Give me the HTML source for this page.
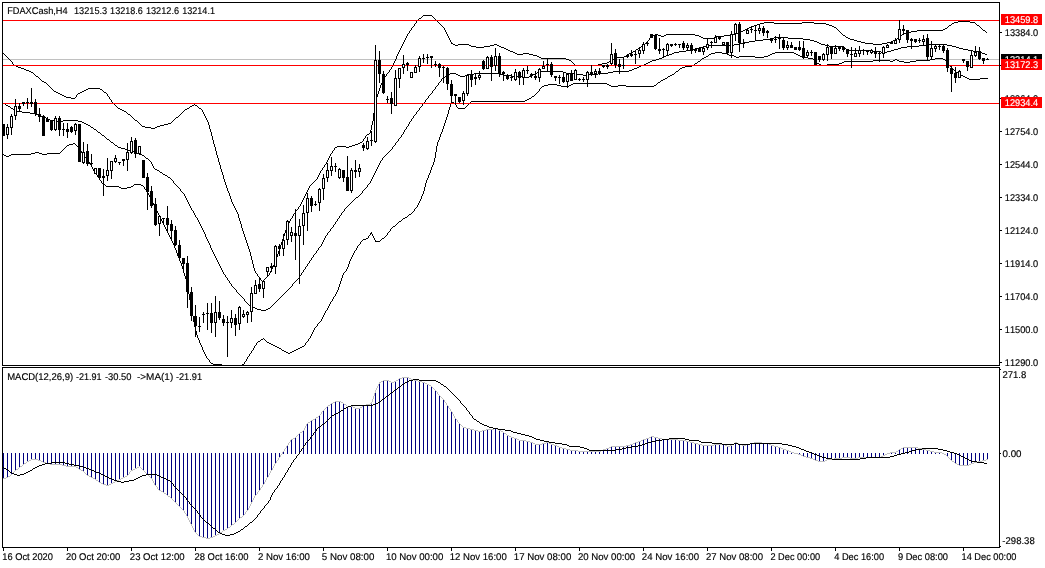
<!DOCTYPE html>
<html><head><meta charset="utf-8"><title>FDAXCash,H4</title>
<style>
html,body{margin:0;padding:0;background:#fff;}
body{width:1045px;height:568px;overflow:hidden;position:relative;font-family:"Liberation Sans",sans-serif;}
svg{position:absolute;left:0;top:0;display:block}
text{font-family:"Liberation Sans",sans-serif;font-size:9.78px;font-kerning:none;fill:#000;white-space:pre;text-rendering:geometricPrecision;stroke:#000;stroke-width:0.15px;}
.w{fill:#fff}
</style></head><body>
<svg width="1045" height="568" viewBox="0 0 1045 568">
<rect x="0" y="0" width="1045" height="568" fill="#fff"/>

<g shape-rendering="crispEdges" fill="#000">
<rect x="2" y="2" width="998" height="1"/>
<rect x="2" y="2" width="1" height="364"/>
<rect x="2" y="367" width="1" height="181"/>
<rect x="999" y="2" width="1" height="364"/>
<rect x="999" y="367" width="1" height="181"/>
<rect x="2" y="365" width="998" height="1"/>
<rect x="2" y="367" width="998" height="1"/>
<rect x="2" y="547" width="998" height="1"/>
<rect x="1000" y="32" width="2" height="1"/>
<rect x="1000" y="65" width="2" height="1"/>
<rect x="1000" y="98" width="2" height="1"/>
<rect x="1000" y="131" width="2" height="1"/>
<rect x="1000" y="164" width="2" height="1"/>
<rect x="1000" y="197" width="2" height="1"/>
<rect x="1000" y="230" width="2" height="1"/>
<rect x="1000" y="263" width="2" height="1"/>
<rect x="1000" y="296" width="2" height="1"/>
<rect x="1000" y="329" width="2" height="1"/>
<rect x="1000" y="362" width="2" height="1"/>
<rect x="1000" y="369" width="1" height="1"/>
<rect x="1000" y="453" width="1" height="1"/>
<rect x="1000" y="546" width="1" height="1"/>
<rect x="3" y="548" width="1" height="3"/>
<rect x="67" y="548" width="1" height="3"/>
<rect x="131" y="548" width="1" height="3"/>
<rect x="195" y="548" width="1" height="3"/>
<rect x="259" y="548" width="1" height="3"/>
<rect x="323" y="548" width="1" height="3"/>
<rect x="387" y="548" width="1" height="3"/>
<rect x="451" y="548" width="1" height="3"/>
<rect x="515" y="548" width="1" height="3"/>
<rect x="579" y="548" width="1" height="3"/>
<rect x="643" y="548" width="1" height="3"/>
<rect x="707" y="548" width="1" height="3"/>
<rect x="771" y="548" width="1" height="3"/>
<rect x="835" y="548" width="1" height="3"/>
<rect x="899" y="548" width="1" height="3"/>
<rect x="963" y="548" width="1" height="3"/>
</g>
<g shape-rendering="crispEdges">
<rect x="3" y="59" width="996" height="1" fill="#c0c0c0"/>
<path d="M208.5 122v3M209.5 125v4M210.5 129v3M211.5 132v4M212.5 136v4M213.5 140v4M214.5 144v3M215.5 147v4M216.5 151v4M217.5 155v3M218.5 158v4M219.5 162v3M220.5 165v4M221.5 169v3M222.5 172v3M223.5 175v4M224.5 179v3M225.5 182v3M226.5 185v3M227.5 188v3M229.5 193v3M230.5 196v3M231.5 199v3M238.5 214v4M239.5 218v3M240.5 221v3M241.5 224v4M242.5 228v3M243.5 231v3M244.5 234v3M245.5 237v3M246.5 240v3M247.5 243v3M248.5 246v3M249.5 249v3M250.5 252v4M251.5 256v4M252.5 260v4M253.5 264v4M254.5 268v3M274.5 262v3M276.5 257v3M277.5 254v3M278.5 251v3M279.5 248v3M280.5 245v3M281.5 242v3M282.5 239v3M283.5 236v3M284.5 233v3M285.5 230v3M287.5 225v3M370.5 130v3M371.5 125v5M372.5 121v4M373.5 113v8M374.5 105v8M375.5 101v4M376.5 97v4M377.5 94v3M378.5 91v3M379.5 88v3M380.5 85v3M396.5 56v3M423 15.5h9M422 16.5h1M432 16.5h1M421 17.5h1M433 17.5h1M419 18.5h2M434 18.5h1M418 19.5h1M435 19.5h1M417 20.5h1M436 20.5h1M416 21.5h1M437 21.5h1M958 21.5h12M416 22.5h1M438 22.5h1M764 22.5h10M802 22.5h12M954 22.5h4M970 22.5h5M415 23.5h1M439 23.5h1M760 23.5h4M774 23.5h28M814 23.5h12M952 23.5h2M975 23.5h1M414 24.5h1M440 24.5h1M757 24.5h3M826 24.5h3M951 24.5h1M976 24.5h1M414 25.5h1M441 25.5h1M754 25.5h3M829 25.5h3M949 25.5h2M977 25.5h2M413 26.5h1M442 26.5h1M752 26.5h2M832 26.5h2M948 26.5h1M979 26.5h1M412 27.5h1M443 27.5h1M749 27.5h3M834 27.5h2M947 27.5h1M980 27.5h1M411 28.5h1M444 28.5h1M747 28.5h2M836 28.5h1M945 28.5h2M981 28.5h1M411 29.5h1M444 29.5h1M745 29.5h2M837 29.5h1M943 29.5h2M982 29.5h1M410 30.5h1M445 30.5h1M743 30.5h2M838 30.5h1M917 30.5h26M983 30.5h2M409 31.5h1M445 31.5h1M741 31.5h2M839 31.5h1M911 31.5h6M985 31.5h1M409 32.5h1M446 32.5h1M738 32.5h3M840 32.5h1M906 32.5h5M986 32.5h1M408 33.5h1M446 33.5h1M735 33.5h3M841 33.5h1M904 33.5h2M407 34.5h1M447 34.5h1M655 34.5h3M666 34.5h29M732 34.5h3M842 34.5h1M902 34.5h2M407 35.5h1M447 35.5h1M652 35.5h3M658 35.5h3M664 35.5h2M695 35.5h4M724 35.5h8M843 35.5h2M901 35.5h1M406 36.5h1M448 36.5h1M651 36.5h1M661 36.5h3M699 36.5h2M716 36.5h8M845 36.5h1M899 36.5h2M406 37.5h1M448 37.5h1M650 37.5h1M701 37.5h2M714 37.5h2M846 37.5h2M898 37.5h1M405 38.5h1M449 38.5h1M649 38.5h1M703 38.5h11M848 38.5h2M897 38.5h1M405 39.5h1M449 39.5h1M649 39.5h1M850 39.5h4M895 39.5h2M404 40.5h1M450 40.5h1M648 40.5h1M854 40.5h3M893 40.5h2M404 41.5h1M450 41.5h1M647 41.5h1M857 41.5h4M891 41.5h2M403 42.5h1M451 42.5h1M646 42.5h1M861 42.5h4M887 42.5h4M403 43.5h1M451 43.5h2M645 43.5h1M865 43.5h8M882 43.5h5M402 44.5h1M453 44.5h2M458 44.5h11M494 44.5h3M643 44.5h2M873 44.5h9M402 45.5h1M455 45.5h3M469 45.5h2M490 45.5h4M497 45.5h2M642 45.5h1M401 46.5h1M471 46.5h5M484 46.5h6M499 46.5h2M641 46.5h1M401 47.5h1M476 47.5h8M501 47.5h3M639 47.5h2M400 48.5h1M504 48.5h2M638 48.5h1M400 49.5h1M506 49.5h2M636 49.5h2M399 50.5h1M508 50.5h2M635 50.5h1M399 51.5h1M510 51.5h3M633 51.5h2M398 52.5h1M513 52.5h2M631 52.5h2M3 53.5h1M398 53.5h1M515 53.5h2M523 53.5h6M629 53.5h2M4 54.5h1M397 54.5h1M517 54.5h6M529 54.5h4M627 54.5h2M5 55.5h1M397 55.5h1M533 55.5h4M626 55.5h1M6 56.5h1M537 56.5h2M624 56.5h2M7 57.5h1M539 57.5h2M617 57.5h7M8 58.5h1M541 58.5h25M615 58.5h2M9 59.5h1M395 59.5h1M566 59.5h3M613 59.5h2M10 60.5h1M395 60.5h1M569 60.5h2M611 60.5h2M11 61.5h1M394 61.5h1M571 61.5h1M609 61.5h2M12 62.5h1M394 62.5h1M572 62.5h1M607 62.5h2M12 63.5h1M393 63.5h1M573 63.5h1M602 63.5h5M13 64.5h1M393 64.5h1M574 64.5h1M598 64.5h4M14 65.5h2M392 65.5h1M575 65.5h23M16 66.5h2M392 66.5h1M18 67.5h3M391 67.5h1M21 68.5h3M391 68.5h1M24 69.5h2M390 69.5h1M26 70.5h3M389 70.5h1M29 71.5h2M389 71.5h1M31 72.5h2M388 72.5h1M33 73.5h1M387 73.5h1M34 74.5h1M386 74.5h1M35 75.5h1M386 75.5h1M36 76.5h2M385 76.5h1M38 77.5h1M384 77.5h1M39 78.5h1M384 78.5h1M40 79.5h1M383 79.5h1M41 80.5h1M383 80.5h1M42 81.5h2M382 81.5h1M44 82.5h2M382 82.5h1M46 83.5h1M381 83.5h1M47 84.5h1M381 84.5h1M48 85.5h1M49 86.5h1M50 87.5h1M51 88.5h1M88 88.5h12M52 89.5h1M86 89.5h2M100 89.5h2M53 90.5h1M84 90.5h2M102 90.5h1M54 91.5h2M82 91.5h2M103 91.5h1M56 92.5h2M80 92.5h2M104 92.5h2M58 93.5h2M78 93.5h2M106 93.5h1M60 94.5h2M77 94.5h1M107 94.5h1M62 95.5h2M76 95.5h1M107 95.5h1M64 96.5h2M76 96.5h1M108 96.5h1M66 97.5h5M75 97.5h1M109 97.5h1M71 98.5h4M109 98.5h1M110 99.5h1M111 100.5h1M111 101.5h1M112 102.5h1M113 103.5h1M114 104.5h1M194 104.5h1M115 105.5h1M192 105.5h2M195 105.5h2M116 106.5h1M190 106.5h2M197 106.5h1M117 107.5h1M189 107.5h1M198 107.5h1M118 108.5h2M187 108.5h2M199 108.5h2M120 109.5h2M185 109.5h2M201 109.5h1M122 110.5h2M184 110.5h1M202 110.5h1M124 111.5h2M183 111.5h1M202 111.5h1M126 112.5h1M182 112.5h1M203 112.5h1M127 113.5h1M181 113.5h1M203 113.5h1M128 114.5h2M180 114.5h1M204 114.5h1M130 115.5h1M179 115.5h1M204 115.5h1M131 116.5h1M178 116.5h1M205 116.5h1M132 117.5h1M176 117.5h2M205 117.5h1M133 118.5h1M175 118.5h1M206 118.5h1M134 119.5h1M174 119.5h1M206 119.5h1M135 120.5h2M173 120.5h1M207 120.5h1M137 121.5h1M172 121.5h1M207 121.5h1M138 122.5h1M171 122.5h1M139 123.5h1M168 123.5h3M140 124.5h1M164 124.5h4M141 125.5h1M160 125.5h4M142 126.5h3M157 126.5h3M145 127.5h6M155 127.5h2M151 128.5h4M369 133.5h1M367 134.5h2M366 135.5h1M365 136.5h1M365 137.5h1M364 138.5h1M363 139.5h1M363 140.5h1M362 141.5h1M360 142.5h2M358 143.5h2M355 144.5h3M352 145.5h3M337 146.5h9M349 146.5h3M335 147.5h2M346 147.5h3M334 148.5h1M334 149.5h1M333 150.5h1M332 151.5h1M332 152.5h1M331 153.5h1M330 154.5h1M330 155.5h1M329 156.5h1M329 157.5h1M328 158.5h1M328 159.5h1M327 160.5h1M327 161.5h1M326 162.5h1M326 163.5h1M325 164.5h1M324 165.5h1M324 166.5h1M323 167.5h1M322 168.5h1M322 169.5h1M321 170.5h1M320 171.5h1M320 172.5h1M319 173.5h1M319 174.5h1M318 175.5h1M318 176.5h1M317 177.5h1M317 178.5h1M316 179.5h1M315 180.5h1M314 181.5h1M313 182.5h1M312 183.5h1M311 184.5h1M310 185.5h1M309 186.5h1M309 187.5h1M308 188.5h1M308 189.5h1M307 190.5h1M228 191.5h1M307 191.5h1M228 192.5h1M306 192.5h1M306 193.5h1M305 194.5h1M305 195.5h1M304 196.5h1M304 197.5h1M303 198.5h1M303 199.5h1M302 200.5h1M302 201.5h1M232 202.5h1M301 202.5h1M232 203.5h1M301 203.5h1M233 204.5h1M300 204.5h1M233 205.5h1M300 205.5h1M234 206.5h1M299 206.5h1M234 207.5h1M298 207.5h1M235 208.5h1M298 208.5h1M235 209.5h1M297 209.5h1M236 210.5h1M296 210.5h1M236 211.5h1M295 211.5h1M237 212.5h1M295 212.5h1M237 213.5h1M294 213.5h1M293 214.5h1M293 215.5h1M292 216.5h1M292 217.5h1M291 218.5h1M290 219.5h1M290 220.5h1M289 221.5h1M289 222.5h1M288 223.5h1M288 224.5h1M286 228.5h1M286 229.5h1M275 260.5h1M275 261.5h1M273 265.5h1M273 266.5h1M272 267.5h1M272 268.5h1M271 269.5h1M271 270.5h1M255 271.5h1M270 271.5h1M255 272.5h1M270 272.5h1M256 273.5h1M269 273.5h1M257 274.5h1M269 274.5h1M257 275.5h1M268 275.5h1M258 276.5h1M267 276.5h1M259 277.5h1M266 277.5h1M260 278.5h1M265 278.5h1M260 279.5h1M264 279.5h1M261 280.5h1M263 280.5h1M262 281.5h1" fill="none" stroke="#000" stroke-width="1"/>
<path d="M205.5 234v3M210.5 245v3M774 37.5h14M770 38.5h4M788 38.5h15M763 39.5h7M803 39.5h7M755 40.5h8M810 40.5h4M749 41.5h6M814 41.5h3M744 42.5h5M817 42.5h2M740 43.5h4M819 43.5h2M734 44.5h6M821 44.5h4M929 44.5h18M708 45.5h26M825 45.5h4M919 45.5h10M947 45.5h5M703 46.5h5M829 46.5h14M907 46.5h12M952 46.5h4M699 47.5h4M843 47.5h2M901 47.5h6M956 47.5h3M695 48.5h4M845 48.5h1M898 48.5h3M959 48.5h4M691 49.5h4M846 49.5h2M894 49.5h4M963 49.5h5M686 50.5h5M848 50.5h24M891 50.5h3M968 50.5h5M679 51.5h7M872 51.5h9M887 51.5h4M973 51.5h5M674 52.5h5M881 52.5h6M978 52.5h4M672 53.5h2M982 53.5h3M669 54.5h3M985 54.5h2M666 55.5h3M664 56.5h2M662 57.5h2M659 58.5h3M656 59.5h3M652 60.5h4M650 61.5h2M648 62.5h2M646 63.5h2M644 64.5h2M641 65.5h3M639 66.5h2M637 67.5h2M634 68.5h3M632 69.5h2M629 70.5h3M541 71.5h22M613 71.5h16M537 72.5h4M563 72.5h3M608 72.5h5M450 73.5h6M474 73.5h26M535 73.5h2M566 73.5h8M598 73.5h10M448 74.5h2M456 74.5h2M467 74.5h7M500 74.5h4M533 74.5h2M574 74.5h9M588 74.5h10M447 75.5h1M458 75.5h2M465 75.5h2M504 75.5h7M531 75.5h2M583 75.5h5M445 76.5h2M460 76.5h5M511 76.5h11M529 76.5h2M443 77.5h2M522 77.5h7M442 78.5h1M441 79.5h1M441 80.5h1M440 81.5h1M439 82.5h1M438 83.5h1M438 84.5h1M437 85.5h1M436 86.5h1M435 87.5h1M435 88.5h1M434 89.5h1M433 90.5h1M432 91.5h1M432 92.5h1M431 93.5h1M430 94.5h1M429 95.5h1M428 96.5h1M428 97.5h1M427 98.5h1M426 99.5h1M425 100.5h1M425 101.5h1M424 102.5h1M3 103.5h2M423 103.5h1M5 104.5h1M422 104.5h1M6 105.5h2M422 105.5h1M8 106.5h2M421 106.5h1M10 107.5h1M420 107.5h1M11 108.5h2M419 108.5h1M13 109.5h2M419 109.5h1M15 110.5h2M418 110.5h1M17 111.5h5M417 111.5h1M22 112.5h8M416 112.5h1M30 113.5h5M416 113.5h1M35 114.5h3M415 114.5h1M38 115.5h3M414 115.5h1M41 116.5h3M413 116.5h1M44 117.5h2M413 117.5h1M46 118.5h2M412 118.5h1M48 119.5h2M411 119.5h1M50 120.5h6M63 120.5h15M411 120.5h1M56 121.5h7M78 121.5h4M410 121.5h1M82 122.5h2M409 122.5h1M84 123.5h2M409 123.5h1M86 124.5h2M408 124.5h1M88 125.5h2M408 125.5h1M90 126.5h1M407 126.5h1M91 127.5h2M406 127.5h1M93 128.5h1M406 128.5h1M94 129.5h2M405 129.5h1M96 130.5h1M404 130.5h1M97 131.5h1M404 131.5h1M98 132.5h2M403 132.5h1M100 133.5h1M403 133.5h1M101 134.5h1M402 134.5h1M102 135.5h2M401 135.5h1M104 136.5h1M401 136.5h1M105 137.5h1M400 137.5h1M106 138.5h1M399 138.5h1M107 139.5h2M398 139.5h1M109 140.5h1M398 140.5h1M110 141.5h1M397 141.5h1M111 142.5h2M396 142.5h1M113 143.5h1M395 143.5h1M114 144.5h1M395 144.5h1M115 145.5h2M394 145.5h1M117 146.5h1M393 146.5h1M118 147.5h3M392 147.5h1M121 148.5h4M392 148.5h1M125 149.5h3M391 149.5h1M128 150.5h3M390 150.5h1M131 151.5h3M389 151.5h1M134 152.5h2M388 152.5h1M136 153.5h3M387 153.5h1M139 154.5h3M386 154.5h1M142 155.5h2M385 155.5h1M144 156.5h1M384 156.5h1M145 157.5h1M383 157.5h1M146 158.5h2M382 158.5h1M148 159.5h1M382 159.5h1M149 160.5h1M381 160.5h1M150 161.5h1M380 161.5h1M151 162.5h1M380 162.5h1M151 163.5h1M379 163.5h1M152 164.5h1M379 164.5h1M152 165.5h1M378 165.5h1M153 166.5h1M378 166.5h1M153 167.5h1M377 167.5h1M154 168.5h1M377 168.5h1M155 169.5h2M376 169.5h1M157 170.5h2M376 170.5h1M159 171.5h1M375 171.5h1M160 172.5h2M375 172.5h1M162 173.5h1M374 173.5h1M163 174.5h2M374 174.5h1M165 175.5h2M373 175.5h1M167 176.5h1M373 176.5h1M168 177.5h2M372 177.5h1M170 178.5h1M372 178.5h1M171 179.5h1M371 179.5h1M172 180.5h1M371 180.5h1M173 181.5h1M370 181.5h1M173 182.5h1M370 182.5h1M174 183.5h1M369 183.5h1M175 184.5h1M368 184.5h1M176 185.5h1M367 185.5h1M177 186.5h1M367 186.5h1M178 187.5h1M366 187.5h1M179 188.5h1M365 188.5h1M180 189.5h1M364 189.5h1M180 190.5h1M363 190.5h1M181 191.5h1M362 191.5h1M182 192.5h1M362 192.5h1M183 193.5h1M361 193.5h1M184 194.5h1M360 194.5h1M184 195.5h1M359 195.5h1M185 196.5h1M358 196.5h1M185 197.5h1M356 197.5h2M186 198.5h1M355 198.5h1M186 199.5h1M354 199.5h1M187 200.5h1M353 200.5h1M187 201.5h1M352 201.5h1M188 202.5h1M351 202.5h1M188 203.5h1M350 203.5h1M189 204.5h1M349 204.5h1M189 205.5h1M348 205.5h1M190 206.5h1M347 206.5h1M190 207.5h1M346 207.5h1M191 208.5h1M345 208.5h1M191 209.5h1M344 209.5h1M192 210.5h1M344 210.5h1M193 211.5h1M343 211.5h1M193 212.5h1M342 212.5h1M194 213.5h1M341 213.5h1M194 214.5h1M341 214.5h1M195 215.5h1M340 215.5h1M195 216.5h1M339 216.5h1M196 217.5h1M339 217.5h1M197 218.5h1M338 218.5h1M197 219.5h1M337 219.5h1M198 220.5h1M337 220.5h1M198 221.5h1M336 221.5h1M199 222.5h1M335 222.5h1M199 223.5h1M335 223.5h1M200 224.5h1M334 224.5h1M200 225.5h1M333 225.5h1M201 226.5h1M333 226.5h1M201 227.5h1M332 227.5h1M202 228.5h1M331 228.5h1M202 229.5h1M330 229.5h1M203 230.5h1M330 230.5h1M203 231.5h1M329 231.5h1M204 232.5h1M328 232.5h1M204 233.5h1M327 233.5h1M327 234.5h1M326 235.5h1M325 236.5h1M206 237.5h1M325 237.5h1M206 238.5h1M324 238.5h1M207 239.5h1M324 239.5h1M207 240.5h1M323 240.5h1M208 241.5h1M323 241.5h1M208 242.5h1M322 242.5h1M209 243.5h1M322 243.5h1M209 244.5h1M321 244.5h1M321 245.5h1M320 246.5h1M319 247.5h1M211 248.5h1M318 248.5h1M211 249.5h1M318 249.5h1M212 250.5h1M317 250.5h1M212 251.5h1M316 251.5h1M213 252.5h1M316 252.5h1M213 253.5h1M315 253.5h1M214 254.5h1M314 254.5h1M214 255.5h1M313 255.5h1M215 256.5h1M313 256.5h1M215 257.5h1M312 257.5h1M216 258.5h1M311 258.5h1M216 259.5h1M311 259.5h1M217 260.5h1M310 260.5h1M217 261.5h1M309 261.5h1M218 262.5h1M309 262.5h1M218 263.5h1M308 263.5h1M219 264.5h1M307 264.5h1M219 265.5h1M307 265.5h1M220 266.5h1M306 266.5h1M220 267.5h1M305 267.5h1M221 268.5h1M305 268.5h1M221 269.5h1M304 269.5h1M222 270.5h1M303 270.5h1M222 271.5h1M303 271.5h1M223 272.5h1M302 272.5h1M223 273.5h1M301 273.5h1M224 274.5h1M301 274.5h1M225 275.5h1M300 275.5h1M225 276.5h1M299 276.5h1M226 277.5h1M299 277.5h1M227 278.5h1M298 278.5h1M227 279.5h1M297 279.5h1M228 280.5h1M296 280.5h1M229 281.5h1M295 281.5h1M229 282.5h1M294 282.5h1M230 283.5h1M293 283.5h1M231 284.5h1M292 284.5h1M231 285.5h1M292 285.5h1M232 286.5h1M291 286.5h1M233 287.5h1M290 287.5h1M234 288.5h1M289 288.5h1M235 289.5h1M288 289.5h1M236 290.5h1M287 290.5h1M236 291.5h1M286 291.5h1M237 292.5h1M285 292.5h1M238 293.5h1M284 293.5h1M239 294.5h1M283 294.5h1M240 295.5h1M282 295.5h1M241 296.5h1M281 296.5h1M242 297.5h1M280 297.5h1M243 298.5h1M279 298.5h1M244 299.5h1M278 299.5h1M244 300.5h1M277 300.5h1M245 301.5h1M276 301.5h1M246 302.5h1M275 302.5h1M247 303.5h1M274 303.5h1M248 304.5h1M273 304.5h1M249 305.5h2M272 305.5h1M251 306.5h2M271 306.5h1M253 307.5h2M270 307.5h1M255 308.5h2M268 308.5h2M257 309.5h4M266 309.5h2M261 310.5h5" fill="none" stroke="#000" stroke-width="1"/>
<path d="M174.5 245v3M176.5 250v3M177.5 253v3M179.5 258v3M181.5 263v3M182.5 266v3M183.5 269v4M184.5 273v3M185.5 276v3M186.5 279v4M187.5 283v6M188.5 289v5M189.5 294v6M190.5 300v5M191.5 305v6M192.5 311v5M193.5 316v6M194.5 322v5M195.5 327v4M196.5 331v4M197.5 335v3M199.5 340v3M202.5 347v3M338.5 287v3M339.5 284v3M340.5 281v3M341.5 278v3M342.5 275v3M348.5 264v3M349.5 261v3M421.5 196v3M423.5 191v3M424.5 187v4M425.5 183v4M426.5 180v3M428.5 175v3M430.5 170v3M431.5 167v3M433.5 162v3M434.5 158v4M435.5 152v6M436.5 146v6M437.5 142v4M439.5 137v3M440.5 134v3M442.5 129v3M443.5 126v3M444.5 123v3M445.5 120v3M446.5 117v3M447.5 114v3M448.5 110v4M449.5 107v3M450.5 103v4M715 52.5h7M775 52.5h19M711 53.5h4M722 53.5h5M772 53.5h3M794 53.5h2M709 54.5h2M727 54.5h2M770 54.5h2M796 54.5h2M708 55.5h1M729 55.5h5M768 55.5h2M798 55.5h2M706 56.5h2M734 56.5h2M739 56.5h16M764 56.5h4M800 56.5h2M704 57.5h2M736 57.5h3M755 57.5h9M802 57.5h6M702 58.5h2M808 58.5h5M935 58.5h8M701 59.5h1M813 59.5h1M895 59.5h2M930 59.5h5M943 59.5h2M700 60.5h1M814 60.5h1M873 60.5h17M893 60.5h2M897 60.5h2M916 60.5h14M945 60.5h1M698 61.5h2M815 61.5h1M844 61.5h29M890 61.5h3M899 61.5h5M910 61.5h6M946 61.5h1M697 62.5h1M816 62.5h1M842 62.5h2M904 62.5h6M946 62.5h1M695 63.5h2M817 63.5h2M839 63.5h3M947 63.5h1M694 64.5h1M819 64.5h2M827 64.5h12M948 64.5h1M692 65.5h2M821 65.5h6M949 65.5h1M685 66.5h7M950 66.5h1M682 67.5h3M951 67.5h1M680 68.5h2M952 68.5h1M679 69.5h1M953 69.5h1M678 70.5h1M954 70.5h1M676 71.5h2M955 71.5h1M675 72.5h1M956 72.5h2M674 73.5h1M958 73.5h1M672 74.5h2M959 74.5h2M670 75.5h2M961 75.5h2M668 76.5h2M963 76.5h2M667 77.5h1M965 77.5h2M665 78.5h2M967 78.5h2M980 78.5h8M663 79.5h2M969 79.5h11M661 80.5h2M660 81.5h1M658 82.5h2M573 83.5h34M657 83.5h1M548 84.5h9M571 84.5h2M607 84.5h2M656 84.5h1M544 85.5h4M557 85.5h4M569 85.5h2M609 85.5h2M618 85.5h8M654 85.5h2M542 86.5h2M561 86.5h8M611 86.5h7M626 86.5h28M541 87.5h1M540 88.5h1M539 89.5h1M539 90.5h1M538 91.5h1M537 92.5h1M536 93.5h1M535 94.5h1M534 95.5h1M532 96.5h2M531 97.5h1M529 98.5h2M527 99.5h2M525 100.5h2M451 101.5h1M471 101.5h54M451 102.5h3M470 102.5h1M454 103.5h1M469 103.5h1M455 104.5h1M468 104.5h1M456 105.5h1M467 105.5h1M456 106.5h1M466 106.5h1M457 107.5h1M465 107.5h1M458 108.5h7M441 132.5h1M441 133.5h1M438 140.5h1M438 141.5h1M73 143.5h2M69 144.5h4M75 144.5h1M67 145.5h2M76 145.5h1M66 146.5h1M77 146.5h1M65 147.5h1M78 147.5h1M64 148.5h1M78 148.5h1M63 149.5h1M79 149.5h1M62 150.5h1M80 150.5h1M61 151.5h1M81 151.5h1M35 152.5h4M60 152.5h1M81 152.5h1M31 153.5h4M39 153.5h3M47 153.5h13M82 153.5h1M3 154.5h1M11 154.5h20M42 154.5h5M83 154.5h1M4 155.5h2M9 155.5h2M83 155.5h1M6 156.5h3M84 156.5h1M85 157.5h1M86 158.5h1M86 159.5h1M87 160.5h1M88 161.5h1M89 162.5h1M89 163.5h1M90 164.5h1M91 165.5h1M432 165.5h1M91 166.5h1M432 166.5h1M92 167.5h1M92 168.5h1M93 169.5h1M93 170.5h1M94 171.5h1M95 172.5h1M95 173.5h1M429 173.5h1M96 174.5h1M429 174.5h1M97 175.5h1M97 176.5h1M98 177.5h1M99 178.5h1M427 178.5h1M99 179.5h1M427 179.5h1M100 180.5h1M101 181.5h1M101 182.5h1M102 183.5h1M103 184.5h2M134 184.5h7M105 185.5h1M133 185.5h1M141 185.5h2M106 186.5h13M131 186.5h2M143 186.5h1M119 187.5h2M127 187.5h4M144 187.5h1M121 188.5h6M144 188.5h1M145 189.5h1M146 190.5h1M147 191.5h1M147 192.5h1M148 193.5h1M148 194.5h1M422 194.5h1M149 195.5h1M422 195.5h1M149 196.5h1M150 197.5h1M150 198.5h1M151 199.5h1M420 199.5h1M151 200.5h1M420 200.5h1M152 201.5h1M419 201.5h1M152 202.5h1M419 202.5h1M153 203.5h1M418 203.5h1M153 204.5h1M418 204.5h1M154 205.5h1M417 205.5h1M154 206.5h1M417 206.5h1M155 207.5h1M416 207.5h1M155 208.5h1M415 208.5h1M156 209.5h1M414 209.5h1M156 210.5h1M414 210.5h1M157 211.5h1M413 211.5h1M157 212.5h1M412 212.5h1M158 213.5h1M411 213.5h1M158 214.5h1M409 214.5h2M159 215.5h1M408 215.5h1M159 216.5h1M407 216.5h1M160 217.5h1M405 217.5h2M160 218.5h1M403 218.5h2M161 219.5h1M402 219.5h1M161 220.5h1M401 220.5h1M162 221.5h1M399 221.5h2M162 222.5h1M398 222.5h1M163 223.5h1M397 223.5h1M163 224.5h1M396 224.5h1M164 225.5h1M395 225.5h1M164 226.5h1M393 226.5h2M165 227.5h1M392 227.5h1M165 228.5h1M391 228.5h1M166 229.5h1M390 229.5h1M166 230.5h1M390 230.5h1M167 231.5h1M389 231.5h1M167 232.5h1M371 232.5h1M388 232.5h1M168 233.5h1M370 233.5h2M387 233.5h1M168 234.5h1M370 234.5h1M372 234.5h1M387 234.5h1M169 235.5h1M369 235.5h1M372 235.5h1M386 235.5h1M169 236.5h1M368 236.5h1M373 236.5h1M385 236.5h1M170 237.5h1M368 237.5h1M373 237.5h1M384 237.5h1M170 238.5h1M366 238.5h2M374 238.5h1M382 238.5h2M171 239.5h1M363 239.5h3M374 239.5h1M381 239.5h1M171 240.5h1M362 240.5h1M375 240.5h1M380 240.5h1M172 241.5h1M361 241.5h1M375 241.5h5M172 242.5h1M360 242.5h1M173 243.5h1M360 243.5h1M173 244.5h1M359 244.5h1M358 245.5h1M357 246.5h1M357 247.5h1M175 248.5h1M356 248.5h1M175 249.5h1M356 249.5h1M355 250.5h1M354 251.5h1M354 252.5h1M353 253.5h1M353 254.5h1M352 255.5h1M178 256.5h1M352 256.5h1M178 257.5h1M351 257.5h1M351 258.5h1M350 259.5h1M350 260.5h1M180 261.5h1M180 262.5h1M347 267.5h1M347 268.5h1M346 269.5h1M346 270.5h1M345 271.5h1M344 272.5h1M343 273.5h1M343 274.5h1M337 290.5h1M337 291.5h1M336 292.5h1M336 293.5h1M335 294.5h1M335 295.5h1M334 296.5h1M333 297.5h1M333 298.5h1M332 299.5h1M332 300.5h1M331 301.5h1M330 302.5h1M330 303.5h1M329 304.5h1M329 305.5h1M328 306.5h1M328 307.5h1M327 308.5h1M327 309.5h1M326 310.5h1M325 311.5h1M325 312.5h1M324 313.5h1M324 314.5h1M323 315.5h1M323 316.5h1M322 317.5h1M322 318.5h1M321 319.5h1M321 320.5h1M320 321.5h1M319 322.5h1M318 323.5h1M317 324.5h1M317 325.5h1M316 326.5h1M315 327.5h1M314 328.5h1M314 329.5h1M313 330.5h1M313 331.5h1M312 332.5h1M312 333.5h1M311 334.5h1M311 335.5h1M310 336.5h1M310 337.5h1M198 338.5h1M263 338.5h1M309 338.5h1M198 339.5h1M261 339.5h2M264 339.5h1M308 339.5h1M260 340.5h1M265 340.5h1M308 340.5h1M258 341.5h2M266 341.5h1M307 341.5h1M257 342.5h1M267 342.5h2M306 342.5h1M200 343.5h1M256 343.5h1M269 343.5h2M305 343.5h1M200 344.5h1M256 344.5h1M271 344.5h2M305 344.5h1M201 345.5h1M255 345.5h1M273 345.5h2M304 345.5h1M201 346.5h1M254 346.5h1M275 346.5h2M302 346.5h2M254 347.5h1M277 347.5h2M300 347.5h2M253 348.5h1M279 348.5h2M298 348.5h2M253 349.5h1M281 349.5h1M296 349.5h2M203 350.5h1M252 350.5h1M282 350.5h2M294 350.5h2M203 351.5h1M251 351.5h1M284 351.5h2M292 351.5h2M204 352.5h1M251 352.5h1M286 352.5h2M290 352.5h2M204 353.5h1M250 353.5h1M288 353.5h2M205 354.5h1M249 354.5h1M205 355.5h1M249 355.5h1M206 356.5h1M248 356.5h1M206 357.5h1M247 357.5h1M207 358.5h1M247 358.5h1M208 359.5h1M246 359.5h1M209 360.5h1M246 360.5h1M209 361.5h1M245 361.5h1M210 362.5h1M244 362.5h1M211 363.5h2M244 363.5h1M213 364.5h9M242 364.5h2" fill="none" stroke="#000" stroke-width="1"/>
<rect x="3" y="20" width="996" height="1" fill="#f00"/>
<rect x="3" y="65" width="996" height="1" fill="#f00"/>
<rect x="3" y="103" width="996" height="1" fill="#f00"/>
</g>
<g shape-rendering="crispEdges" fill="#000">
<rect x="3" y="124" width="1" height="12"/>
<rect x="2" y="124" width="3" height="12"/>
<rect x="7" y="124" width="1" height="15"/>
<rect x="6" y="127" width="3" height="8"/>
<rect x="7" y="128" width="1" height="6" class="w"/>
<rect x="11" y="114" width="1" height="21"/>
<rect x="10" y="116" width="3" height="12"/>
<rect x="11" y="117" width="1" height="10" class="w"/>
<rect x="15" y="99" width="1" height="21"/>
<rect x="14" y="106" width="3" height="10"/>
<rect x="15" y="107" width="1" height="8" class="w"/>
<rect x="19" y="103" width="1" height="8"/>
<rect x="18" y="106" width="3" height="3"/>
<rect x="23" y="102" width="1" height="4"/>
<rect x="22" y="102" width="3" height="2"/>
<rect x="27" y="98" width="1" height="11"/>
<rect x="26" y="102" width="3" height="1"/>
<rect x="31" y="88" width="1" height="19"/>
<rect x="30" y="102" width="3" height="2"/>
<rect x="35" y="99" width="1" height="17"/>
<rect x="34" y="102" width="3" height="12"/>
<rect x="39" y="108" width="1" height="14"/>
<rect x="38" y="114" width="3" height="3"/>
<rect x="43" y="115" width="1" height="21"/>
<rect x="42" y="116" width="3" height="20"/>
<rect x="47" y="117" width="1" height="5"/>
<rect x="46" y="119" width="3" height="3"/>
<rect x="51" y="120" width="1" height="11"/>
<rect x="50" y="121" width="3" height="9"/>
<rect x="55" y="116" width="1" height="15"/>
<rect x="54" y="118" width="3" height="12"/>
<rect x="55" y="119" width="1" height="10" class="w"/>
<rect x="59" y="116" width="1" height="20"/>
<rect x="58" y="118" width="3" height="12"/>
<rect x="63" y="123" width="1" height="13"/>
<rect x="62" y="129" width="3" height="1"/>
<rect x="67" y="123" width="1" height="15"/>
<rect x="66" y="129" width="3" height="3"/>
<rect x="71" y="126" width="1" height="7"/>
<rect x="70" y="127" width="3" height="5"/>
<rect x="75" y="123" width="1" height="12"/>
<rect x="74" y="124" width="3" height="7"/>
<rect x="75" y="125" width="1" height="5" class="w"/>
<rect x="79" y="124" width="1" height="38"/>
<rect x="78" y="124" width="3" height="38"/>
<rect x="83" y="142" width="1" height="22"/>
<rect x="82" y="152" width="3" height="11"/>
<rect x="83" y="153" width="1" height="9" class="w"/>
<rect x="87" y="144" width="1" height="22"/>
<rect x="86" y="151" width="3" height="13"/>
<rect x="91" y="154" width="1" height="12"/>
<rect x="90" y="163" width="3" height="1"/>
<rect x="95" y="168" width="1" height="6"/>
<rect x="94" y="168" width="3" height="6"/>
<rect x="95" y="169" width="1" height="4" class="w"/>
<rect x="99" y="168" width="1" height="10"/>
<rect x="98" y="168" width="3" height="10"/>
<rect x="103" y="169" width="1" height="27"/>
<rect x="102" y="176" width="3" height="2"/>
<rect x="107" y="158" width="1" height="23"/>
<rect x="106" y="170" width="3" height="6"/>
<rect x="107" y="171" width="1" height="4" class="w"/>
<rect x="111" y="161" width="1" height="18"/>
<rect x="110" y="161" width="3" height="10"/>
<rect x="111" y="162" width="1" height="8" class="w"/>
<rect x="115" y="155" width="1" height="8"/>
<rect x="114" y="158" width="3" height="4"/>
<rect x="115" y="159" width="1" height="2" class="w"/>
<rect x="119" y="162" width="1" height="3"/>
<rect x="118" y="162" width="3" height="1"/>
<rect x="123" y="159" width="1" height="7"/>
<rect x="122" y="159" width="3" height="2"/>
<rect x="127" y="143" width="1" height="28"/>
<rect x="126" y="152" width="3" height="8"/>
<rect x="127" y="153" width="1" height="6" class="w"/>
<rect x="131" y="137" width="1" height="17"/>
<rect x="130" y="141" width="3" height="12"/>
<rect x="131" y="142" width="1" height="10" class="w"/>
<rect x="135" y="138" width="1" height="20"/>
<rect x="134" y="140" width="3" height="14"/>
<rect x="139" y="146" width="1" height="8"/>
<rect x="138" y="146" width="3" height="8"/>
<rect x="139" y="147" width="1" height="6" class="w"/>
<rect x="143" y="160" width="1" height="18"/>
<rect x="142" y="160" width="3" height="18"/>
<rect x="147" y="173" width="1" height="37"/>
<rect x="146" y="177" width="3" height="15"/>
<rect x="151" y="186" width="1" height="22"/>
<rect x="150" y="191" width="3" height="15"/>
<rect x="155" y="198" width="1" height="28"/>
<rect x="154" y="204" width="3" height="21"/>
<rect x="159" y="216" width="1" height="20"/>
<rect x="158" y="216" width="3" height="8"/>
<rect x="159" y="217" width="1" height="6" class="w"/>
<rect x="163" y="218" width="1" height="6"/>
<rect x="162" y="218" width="3" height="1"/>
<rect x="167" y="206" width="1" height="25"/>
<rect x="166" y="218" width="3" height="7"/>
<rect x="171" y="220" width="1" height="20"/>
<rect x="170" y="224" width="3" height="7"/>
<rect x="175" y="226" width="1" height="20"/>
<rect x="174" y="230" width="3" height="15"/>
<rect x="179" y="240" width="1" height="19"/>
<rect x="178" y="245" width="3" height="13"/>
<rect x="183" y="258" width="1" height="11"/>
<rect x="182" y="258" width="3" height="6"/>
<rect x="187" y="256" width="1" height="52"/>
<rect x="186" y="263" width="3" height="29"/>
<rect x="191" y="287" width="1" height="34"/>
<rect x="190" y="292" width="3" height="24"/>
<rect x="195" y="305" width="1" height="32"/>
<rect x="194" y="316" width="3" height="10"/>
<rect x="199" y="317" width="1" height="15"/>
<rect x="198" y="326" width="3" height="1"/>
<rect x="203" y="312" width="1" height="11"/>
<rect x="202" y="314" width="3" height="1"/>
<rect x="207" y="303" width="1" height="27"/>
<rect x="206" y="313" width="3" height="1"/>
<rect x="211" y="303" width="1" height="30"/>
<rect x="210" y="313" width="3" height="10"/>
<rect x="215" y="296" width="1" height="41"/>
<rect x="214" y="312" width="3" height="11"/>
<rect x="215" y="313" width="1" height="9" class="w"/>
<rect x="219" y="301" width="1" height="19"/>
<rect x="218" y="312" width="3" height="6"/>
<rect x="223" y="315" width="1" height="11"/>
<rect x="222" y="319" width="3" height="4"/>
<rect x="227" y="316" width="1" height="41"/>
<rect x="226" y="322" width="3" height="1"/>
<rect x="231" y="310" width="1" height="18"/>
<rect x="230" y="318" width="3" height="5"/>
<rect x="231" y="319" width="1" height="3" class="w"/>
<rect x="235" y="314" width="1" height="22"/>
<rect x="234" y="318" width="3" height="7"/>
<rect x="239" y="306" width="1" height="24"/>
<rect x="238" y="307" width="3" height="17"/>
<rect x="239" y="308" width="1" height="15" class="w"/>
<rect x="243" y="310" width="1" height="8"/>
<rect x="242" y="314" width="3" height="3"/>
<rect x="243" y="315" width="1" height="1" class="w"/>
<rect x="247" y="311" width="1" height="12"/>
<rect x="246" y="312" width="3" height="3"/>
<rect x="247" y="313" width="1" height="1" class="w"/>
<rect x="251" y="287" width="1" height="35"/>
<rect x="250" y="293" width="3" height="19"/>
<rect x="251" y="294" width="1" height="17" class="w"/>
<rect x="255" y="280" width="1" height="14"/>
<rect x="254" y="285" width="3" height="9"/>
<rect x="255" y="286" width="1" height="7" class="w"/>
<rect x="259" y="277" width="1" height="15"/>
<rect x="258" y="284" width="3" height="5"/>
<rect x="263" y="281" width="1" height="17"/>
<rect x="262" y="281" width="3" height="8"/>
<rect x="263" y="282" width="1" height="6" class="w"/>
<rect x="267" y="267" width="1" height="9"/>
<rect x="266" y="267" width="3" height="5"/>
<rect x="267" y="268" width="1" height="3" class="w"/>
<rect x="271" y="263" width="1" height="9"/>
<rect x="270" y="266" width="3" height="2"/>
<rect x="275" y="245" width="1" height="29"/>
<rect x="274" y="246" width="3" height="21"/>
<rect x="275" y="247" width="1" height="19" class="w"/>
<rect x="279" y="244" width="1" height="12"/>
<rect x="278" y="246" width="3" height="3"/>
<rect x="283" y="234" width="1" height="22"/>
<rect x="282" y="240" width="3" height="9"/>
<rect x="283" y="241" width="1" height="7" class="w"/>
<rect x="287" y="220" width="1" height="25"/>
<rect x="286" y="221" width="3" height="19"/>
<rect x="287" y="222" width="1" height="17" class="w"/>
<rect x="291" y="227" width="1" height="15"/>
<rect x="290" y="232" width="3" height="4"/>
<rect x="291" y="233" width="1" height="2" class="w"/>
<rect x="295" y="209" width="1" height="51"/>
<rect x="294" y="233" width="3" height="3"/>
<rect x="299" y="219" width="1" height="65"/>
<rect x="298" y="226" width="3" height="10"/>
<rect x="299" y="227" width="1" height="8" class="w"/>
<rect x="303" y="205" width="1" height="40"/>
<rect x="302" y="213" width="3" height="13"/>
<rect x="303" y="214" width="1" height="11" class="w"/>
<rect x="307" y="193" width="1" height="38"/>
<rect x="306" y="198" width="3" height="15"/>
<rect x="307" y="199" width="1" height="13" class="w"/>
<rect x="311" y="196" width="1" height="16"/>
<rect x="310" y="198" width="3" height="8"/>
<rect x="315" y="201" width="1" height="5"/>
<rect x="314" y="204" width="3" height="1"/>
<rect x="319" y="188" width="1" height="23"/>
<rect x="318" y="189" width="3" height="14"/>
<rect x="319" y="190" width="1" height="12" class="w"/>
<rect x="323" y="174" width="1" height="26"/>
<rect x="322" y="178" width="3" height="11"/>
<rect x="323" y="179" width="1" height="9" class="w"/>
<rect x="327" y="163" width="1" height="19"/>
<rect x="326" y="170" width="3" height="8"/>
<rect x="327" y="171" width="1" height="6" class="w"/>
<rect x="331" y="157" width="1" height="19"/>
<rect x="330" y="166" width="3" height="5"/>
<rect x="331" y="167" width="1" height="3" class="w"/>
<rect x="335" y="163" width="1" height="9"/>
<rect x="334" y="166" width="3" height="1"/>
<rect x="339" y="168" width="1" height="11"/>
<rect x="338" y="169" width="3" height="9"/>
<rect x="339" y="170" width="1" height="7" class="w"/>
<rect x="343" y="170" width="1" height="12"/>
<rect x="342" y="170" width="3" height="8"/>
<rect x="347" y="156" width="1" height="35"/>
<rect x="346" y="177" width="3" height="14"/>
<rect x="351" y="168" width="1" height="25"/>
<rect x="350" y="170" width="3" height="21"/>
<rect x="351" y="171" width="1" height="19" class="w"/>
<rect x="355" y="160" width="1" height="18"/>
<rect x="354" y="170" width="3" height="2"/>
<rect x="359" y="164" width="1" height="13"/>
<rect x="358" y="168" width="3" height="4"/>
<rect x="359" y="169" width="1" height="2" class="w"/>
<rect x="363" y="143" width="1" height="8"/>
<rect x="362" y="145" width="3" height="3"/>
<rect x="367" y="137" width="1" height="13"/>
<rect x="366" y="141" width="3" height="8"/>
<rect x="367" y="142" width="1" height="6" class="w"/>
<rect x="371" y="131" width="1" height="15"/>
<rect x="370" y="140" width="3" height="1"/>
<rect x="375" y="45" width="1" height="98"/>
<rect x="374" y="60" width="3" height="82"/>
<rect x="375" y="61" width="1" height="80" class="w"/>
<rect x="379" y="51" width="1" height="32"/>
<rect x="378" y="60" width="3" height="14"/>
<rect x="383" y="71" width="1" height="23"/>
<rect x="382" y="74" width="3" height="19"/>
<rect x="387" y="96" width="1" height="7"/>
<rect x="386" y="99" width="3" height="1"/>
<rect x="391" y="92" width="1" height="22"/>
<rect x="390" y="98" width="3" height="6"/>
<rect x="395" y="70" width="1" height="36"/>
<rect x="394" y="78" width="3" height="28"/>
<rect x="395" y="79" width="1" height="26" class="w"/>
<rect x="399" y="68" width="1" height="20"/>
<rect x="398" y="68" width="3" height="11"/>
<rect x="399" y="69" width="1" height="9" class="w"/>
<rect x="403" y="55" width="1" height="19"/>
<rect x="402" y="64" width="3" height="4"/>
<rect x="403" y="65" width="1" height="2" class="w"/>
<rect x="407" y="62" width="1" height="9"/>
<rect x="406" y="63" width="3" height="2"/>
<rect x="411" y="72" width="1" height="6"/>
<rect x="410" y="72" width="3" height="6"/>
<rect x="411" y="73" width="1" height="4" class="w"/>
<rect x="415" y="65" width="1" height="8"/>
<rect x="414" y="67" width="3" height="6"/>
<rect x="415" y="68" width="1" height="4" class="w"/>
<rect x="419" y="56" width="1" height="16"/>
<rect x="418" y="58" width="3" height="9"/>
<rect x="419" y="59" width="1" height="7" class="w"/>
<rect x="423" y="54" width="1" height="9"/>
<rect x="422" y="58" width="3" height="1"/>
<rect x="427" y="54" width="1" height="10"/>
<rect x="426" y="57" width="3" height="1"/>
<rect x="431" y="56" width="1" height="12"/>
<rect x="430" y="56" width="3" height="2"/>
<rect x="435" y="61" width="1" height="6"/>
<rect x="434" y="64" width="3" height="1"/>
<rect x="439" y="63" width="1" height="14"/>
<rect x="438" y="64" width="3" height="4"/>
<rect x="443" y="66" width="1" height="17"/>
<rect x="442" y="67" width="3" height="1"/>
<rect x="447" y="67" width="1" height="23"/>
<rect x="446" y="68" width="3" height="16"/>
<rect x="451" y="80" width="1" height="22"/>
<rect x="450" y="84" width="3" height="12"/>
<rect x="455" y="94" width="1" height="10"/>
<rect x="454" y="94" width="3" height="2"/>
<rect x="459" y="97" width="1" height="6"/>
<rect x="458" y="97" width="3" height="5"/>
<rect x="463" y="91" width="1" height="14"/>
<rect x="462" y="93" width="3" height="8"/>
<rect x="463" y="94" width="1" height="6" class="w"/>
<rect x="467" y="74" width="1" height="22"/>
<rect x="466" y="75" width="3" height="19"/>
<rect x="467" y="76" width="1" height="17" class="w"/>
<rect x="471" y="70" width="1" height="17"/>
<rect x="470" y="75" width="3" height="5"/>
<rect x="475" y="73" width="1" height="12"/>
<rect x="474" y="77" width="3" height="2"/>
<rect x="479" y="71" width="1" height="9"/>
<rect x="478" y="75" width="3" height="3"/>
<rect x="479" y="76" width="1" height="1" class="w"/>
<rect x="483" y="60" width="1" height="10"/>
<rect x="482" y="61" width="3" height="8"/>
<rect x="487" y="56" width="1" height="13"/>
<rect x="486" y="57" width="3" height="12"/>
<rect x="487" y="58" width="1" height="10" class="w"/>
<rect x="491" y="55" width="1" height="26"/>
<rect x="490" y="57" width="3" height="10"/>
<rect x="495" y="48" width="1" height="23"/>
<rect x="494" y="56" width="3" height="10"/>
<rect x="495" y="57" width="1" height="8" class="w"/>
<rect x="499" y="53" width="1" height="24"/>
<rect x="498" y="56" width="3" height="18"/>
<rect x="503" y="71" width="1" height="10"/>
<rect x="502" y="72" width="3" height="2"/>
<rect x="507" y="74" width="1" height="6"/>
<rect x="506" y="75" width="3" height="4"/>
<rect x="511" y="74" width="1" height="7"/>
<rect x="510" y="77" width="3" height="1"/>
<rect x="515" y="69" width="1" height="12"/>
<rect x="514" y="72" width="3" height="8"/>
<rect x="515" y="73" width="1" height="6" class="w"/>
<rect x="519" y="71" width="1" height="14"/>
<rect x="518" y="72" width="3" height="6"/>
<rect x="523" y="68" width="1" height="17"/>
<rect x="522" y="70" width="3" height="8"/>
<rect x="523" y="71" width="1" height="6" class="w"/>
<rect x="527" y="66" width="1" height="8"/>
<rect x="526" y="70" width="3" height="1"/>
<rect x="531" y="73" width="1" height="5"/>
<rect x="530" y="74" width="3" height="2"/>
<rect x="535" y="71" width="1" height="9"/>
<rect x="534" y="76" width="3" height="2"/>
<rect x="539" y="68" width="1" height="14"/>
<rect x="538" y="69" width="3" height="9"/>
<rect x="539" y="70" width="1" height="7" class="w"/>
<rect x="543" y="61" width="1" height="8"/>
<rect x="542" y="66" width="3" height="3"/>
<rect x="543" y="67" width="1" height="1" class="w"/>
<rect x="547" y="59" width="1" height="12"/>
<rect x="546" y="64" width="3" height="1"/>
<rect x="551" y="62" width="1" height="15"/>
<rect x="550" y="64" width="3" height="11"/>
<rect x="555" y="76" width="1" height="5"/>
<rect x="554" y="76" width="3" height="2"/>
<rect x="559" y="75" width="1" height="9"/>
<rect x="558" y="77" width="3" height="1"/>
<rect x="563" y="72" width="1" height="11"/>
<rect x="562" y="77" width="3" height="5"/>
<rect x="567" y="73" width="1" height="15"/>
<rect x="566" y="74" width="3" height="8"/>
<rect x="567" y="75" width="1" height="6" class="w"/>
<rect x="571" y="70" width="1" height="11"/>
<rect x="570" y="74" width="3" height="7"/>
<rect x="575" y="69" width="1" height="11"/>
<rect x="574" y="70" width="3" height="10"/>
<rect x="575" y="71" width="1" height="8" class="w"/>
<rect x="579" y="78" width="1" height="3"/>
<rect x="578" y="79" width="3" height="1"/>
<rect x="583" y="77" width="1" height="5"/>
<rect x="582" y="79" width="3" height="1"/>
<rect x="587" y="71" width="1" height="16"/>
<rect x="586" y="72" width="3" height="8"/>
<rect x="587" y="73" width="1" height="6" class="w"/>
<rect x="591" y="65" width="1" height="11"/>
<rect x="590" y="72" width="3" height="3"/>
<rect x="595" y="69" width="1" height="9"/>
<rect x="594" y="71" width="3" height="3"/>
<rect x="595" y="72" width="1" height="1" class="w"/>
<rect x="599" y="68" width="1" height="7"/>
<rect x="598" y="71" width="3" height="3"/>
<rect x="603" y="65" width="1" height="3"/>
<rect x="602" y="65" width="3" height="2"/>
<rect x="607" y="64" width="1" height="5"/>
<rect x="606" y="65" width="3" height="2"/>
<rect x="611" y="43" width="1" height="22"/>
<rect x="610" y="54" width="3" height="10"/>
<rect x="611" y="55" width="1" height="8" class="w"/>
<rect x="615" y="49" width="1" height="19"/>
<rect x="614" y="53" width="3" height="12"/>
<rect x="619" y="59" width="1" height="15"/>
<rect x="618" y="64" width="3" height="3"/>
<rect x="623" y="58" width="1" height="11"/>
<rect x="622" y="65" width="3" height="1"/>
<rect x="627" y="54" width="1" height="4"/>
<rect x="626" y="55" width="3" height="2"/>
<rect x="631" y="50" width="1" height="7"/>
<rect x="630" y="54" width="3" height="2"/>
<rect x="635" y="50" width="1" height="14"/>
<rect x="634" y="54" width="3" height="1"/>
<rect x="639" y="48" width="1" height="10"/>
<rect x="638" y="50" width="3" height="4"/>
<rect x="639" y="51" width="1" height="2" class="w"/>
<rect x="643" y="42" width="1" height="12"/>
<rect x="642" y="44" width="3" height="7"/>
<rect x="643" y="45" width="1" height="5" class="w"/>
<rect x="647" y="42" width="1" height="4"/>
<rect x="646" y="43" width="3" height="1"/>
<rect x="651" y="34" width="1" height="4"/>
<rect x="650" y="34" width="3" height="4"/>
<rect x="655" y="34" width="1" height="16"/>
<rect x="654" y="35" width="3" height="14"/>
<rect x="659" y="38" width="1" height="16"/>
<rect x="658" y="49" width="3" height="2"/>
<rect x="663" y="48" width="1" height="9"/>
<rect x="662" y="49" width="3" height="1"/>
<rect x="667" y="43" width="1" height="13"/>
<rect x="666" y="44" width="3" height="7"/>
<rect x="667" y="45" width="1" height="5" class="w"/>
<rect x="671" y="44" width="1" height="3"/>
<rect x="670" y="44" width="3" height="2"/>
<rect x="675" y="43" width="1" height="3"/>
<rect x="674" y="44" width="3" height="1"/>
<rect x="679" y="44" width="1" height="4"/>
<rect x="678" y="44" width="3" height="1"/>
<rect x="683" y="41" width="1" height="9"/>
<rect x="682" y="43" width="3" height="5"/>
<rect x="687" y="43" width="1" height="7"/>
<rect x="686" y="45" width="3" height="3"/>
<rect x="687" y="46" width="1" height="1" class="w"/>
<rect x="691" y="43" width="1" height="11"/>
<rect x="690" y="45" width="3" height="6"/>
<rect x="695" y="49" width="1" height="4"/>
<rect x="694" y="49" width="3" height="2"/>
<rect x="699" y="47" width="1" height="5"/>
<rect x="698" y="48" width="3" height="4"/>
<rect x="703" y="47" width="1" height="8"/>
<rect x="702" y="48" width="3" height="4"/>
<rect x="703" y="49" width="1" height="2" class="w"/>
<rect x="707" y="39" width="1" height="11"/>
<rect x="706" y="44" width="3" height="4"/>
<rect x="707" y="45" width="1" height="2" class="w"/>
<rect x="711" y="41" width="1" height="7"/>
<rect x="710" y="42" width="3" height="1"/>
<rect x="715" y="35" width="1" height="8"/>
<rect x="714" y="37" width="3" height="6"/>
<rect x="715" y="38" width="1" height="4" class="w"/>
<rect x="719" y="37" width="1" height="3"/>
<rect x="718" y="37" width="3" height="2"/>
<rect x="723" y="42" width="1" height="3"/>
<rect x="722" y="42" width="3" height="3"/>
<rect x="723" y="43" width="1" height="1" class="w"/>
<rect x="727" y="42" width="1" height="13"/>
<rect x="726" y="42" width="3" height="11"/>
<rect x="731" y="31" width="1" height="27"/>
<rect x="730" y="34" width="3" height="19"/>
<rect x="731" y="35" width="1" height="17" class="w"/>
<rect x="735" y="23" width="1" height="18"/>
<rect x="734" y="24" width="3" height="10"/>
<rect x="735" y="25" width="1" height="8" class="w"/>
<rect x="739" y="22" width="1" height="30"/>
<rect x="738" y="24" width="3" height="19"/>
<rect x="743" y="39" width="1" height="9"/>
<rect x="742" y="43" width="3" height="1"/>
<rect x="747" y="29" width="1" height="5"/>
<rect x="746" y="30" width="3" height="4"/>
<rect x="747" y="31" width="1" height="2" class="w"/>
<rect x="751" y="26" width="1" height="7"/>
<rect x="750" y="29" width="3" height="1"/>
<rect x="755" y="26" width="1" height="15"/>
<rect x="754" y="30" width="3" height="1"/>
<rect x="759" y="24" width="1" height="10"/>
<rect x="758" y="28" width="3" height="3"/>
<rect x="759" y="29" width="1" height="1" class="w"/>
<rect x="763" y="26" width="1" height="10"/>
<rect x="762" y="28" width="3" height="5"/>
<rect x="767" y="30" width="1" height="8"/>
<rect x="766" y="31" width="3" height="2"/>
<rect x="771" y="38" width="1" height="5"/>
<rect x="770" y="39" width="3" height="2"/>
<rect x="775" y="36" width="1" height="7"/>
<rect x="774" y="39" width="3" height="1"/>
<rect x="779" y="34" width="1" height="15"/>
<rect x="778" y="38" width="3" height="1"/>
<rect x="783" y="38" width="1" height="12"/>
<rect x="782" y="40" width="3" height="8"/>
<rect x="787" y="41" width="1" height="9"/>
<rect x="786" y="45" width="3" height="3"/>
<rect x="787" y="46" width="1" height="1" class="w"/>
<rect x="791" y="42" width="1" height="6"/>
<rect x="790" y="45" width="3" height="3"/>
<rect x="795" y="47" width="1" height="3"/>
<rect x="794" y="47" width="3" height="3"/>
<rect x="799" y="41" width="1" height="10"/>
<rect x="798" y="47" width="3" height="3"/>
<rect x="803" y="41" width="1" height="18"/>
<rect x="802" y="48" width="3" height="9"/>
<rect x="807" y="50" width="1" height="7"/>
<rect x="806" y="52" width="3" height="4"/>
<rect x="807" y="53" width="1" height="2" class="w"/>
<rect x="811" y="50" width="1" height="6"/>
<rect x="810" y="52" width="3" height="1"/>
<rect x="815" y="52" width="1" height="13"/>
<rect x="814" y="52" width="3" height="13"/>
<rect x="819" y="56" width="1" height="6"/>
<rect x="818" y="56" width="3" height="4"/>
<rect x="823" y="53" width="1" height="8"/>
<rect x="822" y="54" width="3" height="6"/>
<rect x="823" y="55" width="1" height="4" class="w"/>
<rect x="827" y="44" width="1" height="17"/>
<rect x="826" y="47" width="3" height="8"/>
<rect x="827" y="48" width="1" height="6" class="w"/>
<rect x="831" y="46" width="1" height="13"/>
<rect x="830" y="46" width="3" height="8"/>
<rect x="835" y="45" width="1" height="9"/>
<rect x="834" y="48" width="3" height="6"/>
<rect x="835" y="49" width="1" height="4" class="w"/>
<rect x="839" y="46" width="1" height="5"/>
<rect x="838" y="47" width="3" height="2"/>
<rect x="843" y="46" width="1" height="6"/>
<rect x="842" y="47" width="3" height="3"/>
<rect x="847" y="49" width="1" height="8"/>
<rect x="846" y="49" width="3" height="5"/>
<rect x="851" y="47" width="1" height="21"/>
<rect x="850" y="54" width="3" height="1"/>
<rect x="855" y="48" width="1" height="9"/>
<rect x="854" y="53" width="3" height="4"/>
<rect x="855" y="54" width="1" height="2" class="w"/>
<rect x="859" y="46" width="1" height="11"/>
<rect x="858" y="50" width="3" height="4"/>
<rect x="859" y="51" width="1" height="2" class="w"/>
<rect x="863" y="49" width="1" height="6"/>
<rect x="862" y="50" width="3" height="1"/>
<rect x="867" y="50" width="1" height="5"/>
<rect x="866" y="51" width="3" height="1"/>
<rect x="871" y="49" width="1" height="5"/>
<rect x="870" y="50" width="3" height="3"/>
<rect x="871" y="51" width="1" height="1" class="w"/>
<rect x="875" y="47" width="1" height="11"/>
<rect x="874" y="51" width="3" height="3"/>
<rect x="879" y="51" width="1" height="11"/>
<rect x="878" y="53" width="3" height="1"/>
<rect x="883" y="46" width="1" height="12"/>
<rect x="882" y="47" width="3" height="7"/>
<rect x="883" y="48" width="1" height="5" class="w"/>
<rect x="887" y="44" width="1" height="4"/>
<rect x="886" y="45" width="3" height="3"/>
<rect x="887" y="46" width="1" height="1" class="w"/>
<rect x="891" y="41" width="1" height="3"/>
<rect x="890" y="42" width="3" height="2"/>
<rect x="895" y="38" width="1" height="6"/>
<rect x="894" y="40" width="3" height="4"/>
<rect x="895" y="41" width="1" height="2" class="w"/>
<rect x="899" y="20" width="1" height="23"/>
<rect x="898" y="29" width="3" height="11"/>
<rect x="899" y="30" width="1" height="9" class="w"/>
<rect x="903" y="25" width="1" height="9"/>
<rect x="902" y="29" width="3" height="2"/>
<rect x="907" y="30" width="1" height="13"/>
<rect x="906" y="30" width="3" height="10"/>
<rect x="911" y="38" width="1" height="11"/>
<rect x="910" y="39" width="3" height="2"/>
<rect x="915" y="39" width="1" height="4"/>
<rect x="914" y="39" width="3" height="3"/>
<rect x="919" y="38" width="1" height="5"/>
<rect x="918" y="40" width="3" height="1"/>
<rect x="923" y="35" width="1" height="11"/>
<rect x="922" y="39" width="3" height="3"/>
<rect x="923" y="40" width="1" height="1" class="w"/>
<rect x="927" y="34" width="1" height="26"/>
<rect x="926" y="38" width="3" height="19"/>
<rect x="931" y="41" width="1" height="19"/>
<rect x="930" y="48" width="3" height="9"/>
<rect x="931" y="49" width="1" height="7" class="w"/>
<rect x="935" y="45" width="1" height="7"/>
<rect x="934" y="46" width="3" height="3"/>
<rect x="935" y="47" width="1" height="1" class="w"/>
<rect x="939" y="45" width="1" height="5"/>
<rect x="938" y="46" width="3" height="1"/>
<rect x="943" y="45" width="1" height="8"/>
<rect x="942" y="46" width="3" height="5"/>
<rect x="947" y="48" width="1" height="24"/>
<rect x="946" y="50" width="3" height="18"/>
<rect x="951" y="66" width="1" height="26"/>
<rect x="950" y="68" width="3" height="6"/>
<rect x="955" y="67" width="1" height="16"/>
<rect x="954" y="73" width="3" height="5"/>
<rect x="959" y="70" width="1" height="8"/>
<rect x="958" y="71" width="3" height="7"/>
<rect x="959" y="72" width="1" height="5" class="w"/>
<rect x="963" y="59" width="1" height="4"/>
<rect x="962" y="59" width="3" height="2"/>
<rect x="967" y="61" width="1" height="10"/>
<rect x="966" y="61" width="3" height="6"/>
<rect x="971" y="51" width="1" height="17"/>
<rect x="970" y="55" width="3" height="13"/>
<rect x="971" y="56" width="1" height="11" class="w"/>
<rect x="975" y="46" width="1" height="11"/>
<rect x="974" y="52" width="3" height="4"/>
<rect x="975" y="53" width="1" height="2" class="w"/>
<rect x="979" y="47" width="1" height="13"/>
<rect x="978" y="51" width="3" height="8"/>
<rect x="983" y="58" width="1" height="6"/>
<rect x="982" y="58" width="3" height="3"/>
<rect x="987" y="58" width="1" height="2"/>
<rect x="986" y="59" width="3" height="1"/>
</g>
<g shape-rendering="crispEdges">
<rect x="3" y="453" width="1" height="25" fill="#000080"/>
<rect x="7" y="453" width="1" height="24" fill="#000080"/>
<rect x="11" y="453" width="1" height="21" fill="#000080"/>
<rect x="15" y="453" width="1" height="18" fill="#000080"/>
<rect x="19" y="453" width="1" height="15" fill="#000080"/>
<rect x="23" y="453" width="1" height="11" fill="#000080"/>
<rect x="27" y="453" width="1" height="8" fill="#000080"/>
<rect x="31" y="453" width="1" height="6" fill="#000080"/>
<rect x="35" y="453" width="1" height="6" fill="#000080"/>
<rect x="39" y="453" width="1" height="7" fill="#000080"/>
<rect x="43" y="453" width="1" height="10" fill="#000080"/>
<rect x="47" y="453" width="1" height="11" fill="#000080"/>
<rect x="51" y="453" width="1" height="11" fill="#000080"/>
<rect x="55" y="453" width="1" height="11" fill="#000080"/>
<rect x="59" y="453" width="1" height="11" fill="#000080"/>
<rect x="63" y="453" width="1" height="12" fill="#000080"/>
<rect x="67" y="453" width="1" height="13" fill="#000080"/>
<rect x="71" y="453" width="1" height="13" fill="#000080"/>
<rect x="75" y="453" width="1" height="13" fill="#000080"/>
<rect x="79" y="453" width="1" height="17" fill="#000080"/>
<rect x="83" y="453" width="1" height="19" fill="#000080"/>
<rect x="87" y="453" width="1" height="23" fill="#000080"/>
<rect x="91" y="453" width="1" height="25" fill="#000080"/>
<rect x="95" y="453" width="1" height="27" fill="#000080"/>
<rect x="99" y="453" width="1" height="30" fill="#000080"/>
<rect x="103" y="453" width="1" height="32" fill="#000080"/>
<rect x="107" y="453" width="1" height="32" fill="#000080"/>
<rect x="111" y="453" width="1" height="30" fill="#000080"/>
<rect x="115" y="453" width="1" height="28" fill="#000080"/>
<rect x="119" y="453" width="1" height="27" fill="#000080"/>
<rect x="123" y="453" width="1" height="24" fill="#000080"/>
<rect x="127" y="453" width="1" height="22" fill="#000080"/>
<rect x="131" y="453" width="1" height="18" fill="#000080"/>
<rect x="135" y="453" width="1" height="16" fill="#000080"/>
<rect x="139" y="453" width="1" height="14" fill="#000080"/>
<rect x="143" y="453" width="1" height="17" fill="#000080"/>
<rect x="147" y="453" width="1" height="21" fill="#000080"/>
<rect x="151" y="453" width="1" height="26" fill="#000080"/>
<rect x="155" y="453" width="1" height="33" fill="#000080"/>
<rect x="159" y="453" width="1" height="37" fill="#000080"/>
<rect x="163" y="453" width="1" height="40" fill="#000080"/>
<rect x="167" y="453" width="1" height="42" fill="#000080"/>
<rect x="171" y="453" width="1" height="46" fill="#000080"/>
<rect x="175" y="453" width="1" height="49" fill="#000080"/>
<rect x="179" y="453" width="1" height="53" fill="#000080"/>
<rect x="183" y="453" width="1" height="57" fill="#000080"/>
<rect x="187" y="453" width="1" height="64" fill="#000080"/>
<rect x="191" y="453" width="1" height="73" fill="#000080"/>
<rect x="195" y="453" width="1" height="80" fill="#000080"/>
<rect x="199" y="453" width="1" height="84" fill="#000080"/>
<rect x="203" y="453" width="1" height="85" fill="#000080"/>
<rect x="207" y="453" width="1" height="85" fill="#000080"/>
<rect x="211" y="453" width="1" height="85" fill="#000080"/>
<rect x="215" y="453" width="1" height="83" fill="#000080"/>
<rect x="219" y="453" width="1" height="80" fill="#000080"/>
<rect x="223" y="453" width="1" height="78" fill="#000080"/>
<rect x="227" y="453" width="1" height="75" fill="#000080"/>
<rect x="231" y="453" width="1" height="73" fill="#000080"/>
<rect x="235" y="453" width="1" height="70" fill="#000080"/>
<rect x="239" y="453" width="1" height="66" fill="#000080"/>
<rect x="243" y="453" width="1" height="62" fill="#000080"/>
<rect x="247" y="453" width="1" height="58" fill="#000080"/>
<rect x="251" y="453" width="1" height="51" fill="#000080"/>
<rect x="255" y="453" width="1" height="42" fill="#000080"/>
<rect x="259" y="453" width="1" height="38" fill="#000080"/>
<rect x="263" y="453" width="1" height="32" fill="#000080"/>
<rect x="267" y="453" width="1" height="25" fill="#000080"/>
<rect x="271" y="453" width="1" height="18" fill="#000080"/>
<rect x="275" y="453" width="1" height="11" fill="#000080"/>
<rect x="279" y="453" width="1" height="5" fill="#000080"/>
<rect x="283" y="452" width="1" height="2" fill="#000080"/>
<rect x="287" y="445" width="1" height="9" fill="#000080"/>
<rect x="291" y="440" width="1" height="14" fill="#000080"/>
<rect x="295" y="438" width="1" height="16" fill="#000080"/>
<rect x="299" y="434" width="1" height="20" fill="#000080"/>
<rect x="303" y="430" width="1" height="24" fill="#000080"/>
<rect x="307" y="424" width="1" height="30" fill="#000080"/>
<rect x="311" y="421" width="1" height="33" fill="#000080"/>
<rect x="315" y="419" width="1" height="35" fill="#000080"/>
<rect x="319" y="415" width="1" height="39" fill="#000080"/>
<rect x="323" y="411" width="1" height="43" fill="#000080"/>
<rect x="327" y="407" width="1" height="47" fill="#000080"/>
<rect x="331" y="404" width="1" height="50" fill="#000080"/>
<rect x="335" y="402" width="1" height="52" fill="#000080"/>
<rect x="339" y="402" width="1" height="52" fill="#000080"/>
<rect x="343" y="403" width="1" height="51" fill="#000080"/>
<rect x="347" y="407" width="1" height="47" fill="#000080"/>
<rect x="351" y="407" width="1" height="47" fill="#000080"/>
<rect x="355" y="408" width="1" height="46" fill="#000080"/>
<rect x="359" y="408" width="1" height="46" fill="#000080"/>
<rect x="363" y="406" width="1" height="48" fill="#000080"/>
<rect x="367" y="404" width="1" height="50" fill="#000080"/>
<rect x="371" y="403" width="1" height="51" fill="#000080"/>
<rect x="375" y="392" width="1" height="62" fill="#000080"/>
<rect x="379" y="383" width="1" height="71" fill="#000080"/>
<rect x="383" y="381" width="1" height="73" fill="#000080"/>
<rect x="387" y="381" width="1" height="73" fill="#000080"/>
<rect x="391" y="383" width="1" height="71" fill="#000080"/>
<rect x="395" y="382" width="1" height="72" fill="#000080"/>
<rect x="399" y="379" width="1" height="75" fill="#000080"/>
<rect x="403" y="378" width="1" height="76" fill="#000080"/>
<rect x="407" y="378" width="1" height="76" fill="#000080"/>
<rect x="411" y="379" width="1" height="75" fill="#000080"/>
<rect x="415" y="381" width="1" height="73" fill="#000080"/>
<rect x="419" y="382" width="1" height="72" fill="#000080"/>
<rect x="423" y="383" width="1" height="71" fill="#000080"/>
<rect x="427" y="385" width="1" height="69" fill="#000080"/>
<rect x="431" y="387" width="1" height="67" fill="#000080"/>
<rect x="435" y="390" width="1" height="64" fill="#000080"/>
<rect x="439" y="395" width="1" height="59" fill="#000080"/>
<rect x="443" y="399" width="1" height="55" fill="#000080"/>
<rect x="447" y="405" width="1" height="49" fill="#000080"/>
<rect x="451" y="412" width="1" height="42" fill="#000080"/>
<rect x="455" y="418" width="1" height="36" fill="#000080"/>
<rect x="459" y="424" width="1" height="30" fill="#000080"/>
<rect x="463" y="427" width="1" height="27" fill="#000080"/>
<rect x="467" y="428" width="1" height="26" fill="#000080"/>
<rect x="471" y="430" width="1" height="24" fill="#000080"/>
<rect x="475" y="430" width="1" height="24" fill="#000080"/>
<rect x="479" y="431" width="1" height="23" fill="#000080"/>
<rect x="483" y="430" width="1" height="24" fill="#000080"/>
<rect x="487" y="430" width="1" height="24" fill="#000080"/>
<rect x="491" y="429" width="1" height="25" fill="#000080"/>
<rect x="495" y="429" width="1" height="25" fill="#000080"/>
<rect x="499" y="430" width="1" height="24" fill="#000080"/>
<rect x="503" y="433" width="1" height="21" fill="#000080"/>
<rect x="507" y="436" width="1" height="18" fill="#000080"/>
<rect x="511" y="438" width="1" height="16" fill="#000080"/>
<rect x="515" y="439" width="1" height="15" fill="#000080"/>
<rect x="519" y="440" width="1" height="14" fill="#000080"/>
<rect x="523" y="440" width="1" height="14" fill="#000080"/>
<rect x="527" y="441" width="1" height="13" fill="#000080"/>
<rect x="531" y="443" width="1" height="11" fill="#000080"/>
<rect x="535" y="444" width="1" height="10" fill="#000080"/>
<rect x="539" y="444" width="1" height="10" fill="#000080"/>
<rect x="543" y="444" width="1" height="10" fill="#000080"/>
<rect x="547" y="443" width="1" height="11" fill="#000080"/>
<rect x="551" y="444" width="1" height="10" fill="#000080"/>
<rect x="555" y="446" width="1" height="8" fill="#000080"/>
<rect x="559" y="447" width="1" height="7" fill="#000080"/>
<rect x="563" y="449" width="1" height="5" fill="#000080"/>
<rect x="567" y="450" width="1" height="4" fill="#000080"/>
<rect x="571" y="451" width="1" height="3" fill="#000080"/>
<rect x="575" y="451" width="1" height="3" fill="#000080"/>
<rect x="579" y="451" width="1" height="3" fill="#000080"/>
<rect x="583" y="452" width="1" height="2" fill="#000080"/>
<rect x="587" y="452" width="1" height="2" fill="#000080"/>
<rect x="591" y="451" width="1" height="3" fill="#000080"/>
<rect x="595" y="451" width="1" height="3" fill="#000080"/>
<rect x="599" y="451" width="1" height="3" fill="#000080"/>
<rect x="603" y="449" width="1" height="5" fill="#000080"/>
<rect x="607" y="448" width="1" height="6" fill="#000080"/>
<rect x="611" y="447" width="1" height="7" fill="#000080"/>
<rect x="615" y="447" width="1" height="7" fill="#000080"/>
<rect x="619" y="447" width="1" height="7" fill="#000080"/>
<rect x="623" y="446" width="1" height="8" fill="#000080"/>
<rect x="627" y="445" width="1" height="9" fill="#000080"/>
<rect x="631" y="444" width="1" height="10" fill="#000080"/>
<rect x="635" y="443" width="1" height="11" fill="#000080"/>
<rect x="639" y="441" width="1" height="13" fill="#000080"/>
<rect x="643" y="440" width="1" height="14" fill="#000080"/>
<rect x="647" y="438" width="1" height="16" fill="#000080"/>
<rect x="651" y="436" width="1" height="18" fill="#000080"/>
<rect x="655" y="438" width="1" height="16" fill="#000080"/>
<rect x="659" y="439" width="1" height="15" fill="#000080"/>
<rect x="663" y="440" width="1" height="14" fill="#000080"/>
<rect x="667" y="439" width="1" height="15" fill="#000080"/>
<rect x="671" y="439" width="1" height="15" fill="#000080"/>
<rect x="675" y="440" width="1" height="14" fill="#000080"/>
<rect x="679" y="440" width="1" height="14" fill="#000080"/>
<rect x="683" y="441" width="1" height="13" fill="#000080"/>
<rect x="687" y="442" width="1" height="12" fill="#000080"/>
<rect x="691" y="443" width="1" height="11" fill="#000080"/>
<rect x="695" y="444" width="1" height="10" fill="#000080"/>
<rect x="699" y="445" width="1" height="9" fill="#000080"/>
<rect x="703" y="446" width="1" height="8" fill="#000080"/>
<rect x="707" y="446" width="1" height="8" fill="#000080"/>
<rect x="711" y="446" width="1" height="8" fill="#000080"/>
<rect x="715" y="445" width="1" height="9" fill="#000080"/>
<rect x="719" y="444" width="1" height="10" fill="#000080"/>
<rect x="723" y="445" width="1" height="9" fill="#000080"/>
<rect x="727" y="446" width="1" height="8" fill="#000080"/>
<rect x="731" y="446" width="1" height="8" fill="#000080"/>
<rect x="735" y="443" width="1" height="11" fill="#000080"/>
<rect x="739" y="444" width="1" height="10" fill="#000080"/>
<rect x="743" y="445" width="1" height="9" fill="#000080"/>
<rect x="747" y="444" width="1" height="10" fill="#000080"/>
<rect x="751" y="444" width="1" height="10" fill="#000080"/>
<rect x="755" y="443" width="1" height="11" fill="#000080"/>
<rect x="759" y="443" width="1" height="11" fill="#000080"/>
<rect x="763" y="443" width="1" height="11" fill="#000080"/>
<rect x="767" y="444" width="1" height="10" fill="#000080"/>
<rect x="771" y="445" width="1" height="9" fill="#000080"/>
<rect x="775" y="446" width="1" height="8" fill="#000080"/>
<rect x="779" y="448" width="1" height="6" fill="#000080"/>
<rect x="783" y="449" width="1" height="5" fill="#000080"/>
<rect x="787" y="451" width="1" height="3" fill="#000080"/>
<rect x="791" y="452" width="1" height="2" fill="#000080"/>
<rect x="799" y="453" width="1" height="2" fill="#000080"/>
<rect x="803" y="453" width="1" height="3" fill="#000080"/>
<rect x="807" y="453" width="1" height="4" fill="#000080"/>
<rect x="811" y="453" width="1" height="5" fill="#000080"/>
<rect x="815" y="453" width="1" height="7" fill="#000080"/>
<rect x="819" y="453" width="1" height="8" fill="#000080"/>
<rect x="823" y="453" width="1" height="8" fill="#000080"/>
<rect x="827" y="453" width="1" height="7" fill="#000080"/>
<rect x="831" y="453" width="1" height="7" fill="#000080"/>
<rect x="835" y="453" width="1" height="6" fill="#000080"/>
<rect x="839" y="453" width="1" height="5" fill="#000080"/>
<rect x="843" y="453" width="1" height="5" fill="#000080"/>
<rect x="847" y="453" width="1" height="5" fill="#000080"/>
<rect x="851" y="453" width="1" height="5" fill="#000080"/>
<rect x="855" y="453" width="1" height="5" fill="#000080"/>
<rect x="859" y="453" width="1" height="5" fill="#000080"/>
<rect x="863" y="453" width="1" height="4" fill="#000080"/>
<rect x="867" y="453" width="1" height="4" fill="#000080"/>
<rect x="871" y="453" width="1" height="4" fill="#000080"/>
<rect x="875" y="453" width="1" height="4" fill="#000080"/>
<rect x="879" y="453" width="1" height="4" fill="#000080"/>
<rect x="883" y="453" width="1" height="3" fill="#000080"/>
<rect x="887" y="453" width="1" height="1" fill="#000080"/>
<rect x="891" y="453" width="1" height="1" fill="#000080"/>
<rect x="895" y="452" width="1" height="2" fill="#000080"/>
<rect x="899" y="450" width="1" height="4" fill="#000080"/>
<rect x="903" y="448" width="1" height="6" fill="#000080"/>
<rect x="907" y="448" width="1" height="6" fill="#000080"/>
<rect x="911" y="448" width="1" height="6" fill="#000080"/>
<rect x="915" y="448" width="1" height="6" fill="#000080"/>
<rect x="919" y="449" width="1" height="5" fill="#000080"/>
<rect x="923" y="449" width="1" height="5" fill="#000080"/>
<rect x="927" y="451" width="1" height="3" fill="#000080"/>
<rect x="931" y="452" width="1" height="2" fill="#000080"/>
<rect x="935" y="452" width="1" height="2" fill="#000080"/>
<rect x="939" y="453" width="1" height="1" fill="#000080"/>
<rect x="947" y="453" width="1" height="4" fill="#000080"/>
<rect x="951" y="453" width="1" height="7" fill="#000080"/>
<rect x="955" y="453" width="1" height="11" fill="#000080"/>
<rect x="959" y="453" width="1" height="12" fill="#000080"/>
<rect x="963" y="453" width="1" height="12" fill="#000080"/>
<rect x="967" y="453" width="1" height="12" fill="#000080"/>
<rect x="971" y="453" width="1" height="11" fill="#000080"/>
<rect x="975" y="453" width="1" height="9" fill="#000080"/>
<rect x="979" y="453" width="1" height="8" fill="#000080"/>
<rect x="983" y="453" width="1" height="7" fill="#000080"/>
<rect x="987" y="453" width="1" height="7" fill="#000080"/>
<path d="M372.5 399v3M373.5 396v3M374.5 393v3M375.5 390v3M402 377.5h7M399 378.5h3M409 378.5h2M398 379.5h1M411 379.5h3M383 380.5h6M396 380.5h2M414 380.5h4M381 381.5h2M389 381.5h2M394 381.5h2M418 381.5h4M379 382.5h2M391 382.5h3M422 382.5h3M379 383.5h1M425 383.5h2M378 384.5h1M427 384.5h2M378 385.5h1M429 385.5h2M377 386.5h1M431 386.5h1M377 387.5h1M432 387.5h1M376 388.5h1M433 388.5h1M376 389.5h1M434 389.5h1M435 390.5h1M436 391.5h1M437 392.5h1M437 393.5h1M438 394.5h1M439 395.5h1M440 396.5h1M441 397.5h1M442 398.5h1M443 399.5h1M444 400.5h1M335 401.5h6M444 401.5h1M333 402.5h2M341 402.5h2M371 402.5h1M445 402.5h1M331 403.5h2M343 403.5h1M370 403.5h2M446 403.5h1M330 404.5h1M344 404.5h2M366 404.5h4M446 404.5h1M328 405.5h2M346 405.5h1M363 405.5h3M447 405.5h1M327 406.5h1M347 406.5h6M362 406.5h1M448 406.5h1M326 407.5h1M353 407.5h2M360 407.5h2M448 407.5h1M325 408.5h1M355 408.5h5M449 408.5h1M324 409.5h1M450 409.5h1M323 410.5h1M450 410.5h1M322 411.5h1M451 411.5h1M321 412.5h1M452 412.5h1M321 413.5h1M452 413.5h1M320 414.5h1M453 414.5h1M319 415.5h1M453 415.5h1M318 416.5h1M454 416.5h1M316 417.5h2M454 417.5h1M315 418.5h1M455 418.5h1M313 419.5h2M456 419.5h1M311 420.5h2M457 420.5h1M310 421.5h1M457 421.5h1M308 422.5h2M458 422.5h1M307 423.5h1M459 423.5h1M306 424.5h1M460 424.5h1M306 425.5h1M461 425.5h1M305 426.5h1M462 426.5h1M305 427.5h1M463 427.5h3M304 428.5h1M466 428.5h4M494 428.5h3M304 429.5h1M470 429.5h4M486 429.5h8M497 429.5h2M303 430.5h1M474 430.5h4M482 430.5h4M499 430.5h2M302 431.5h1M478 431.5h4M501 431.5h2M300 432.5h2M503 432.5h1M299 433.5h1M504 433.5h2M298 434.5h1M506 434.5h1M297 435.5h1M507 435.5h2M296 436.5h1M509 436.5h2M651 436.5h3M295 437.5h1M511 437.5h3M649 437.5h2M654 437.5h4M293 438.5h2M514 438.5h3M646 438.5h3M658 438.5h4M291 439.5h2M517 439.5h2M643 439.5h3M662 439.5h16M290 440.5h1M519 440.5h7M641 440.5h2M678 440.5h8M290 441.5h1M526 441.5h4M638 441.5h3M686 441.5h4M289 442.5h1M530 442.5h3M546 442.5h3M635 442.5h3M690 442.5h4M735 442.5h2M754 442.5h8M288 443.5h1M533 443.5h2M542 443.5h4M549 443.5h2M633 443.5h2M694 443.5h4M734 443.5h1M737 443.5h2M750 443.5h4M762 443.5h7M288 444.5h1M535 444.5h7M551 444.5h3M630 444.5h3M698 444.5h4M714 444.5h11M732 444.5h2M739 444.5h3M746 444.5h4M769 444.5h2M287 445.5h1M554 445.5h3M626 445.5h4M702 445.5h12M725 445.5h2M730 445.5h2M742 445.5h4M771 445.5h3M286 446.5h1M557 446.5h2M611 446.5h15M727 446.5h3M774 446.5h4M286 447.5h1M559 447.5h3M609 447.5h2M778 447.5h3M903 447.5h15M285 448.5h1M562 448.5h4M606 448.5h3M781 448.5h2M901 448.5h2M918 448.5h4M284 449.5h1M566 449.5h4M603 449.5h3M783 449.5h3M899 449.5h2M922 449.5h4M284 450.5h1M570 450.5h8M601 450.5h2M786 450.5h3M898 450.5h1M926 450.5h4M283 451.5h1M578 451.5h23M789 451.5h2M896 451.5h2M930 451.5h4M282 452.5h1M791 452.5h3M890 452.5h6M934 452.5h8M282 453.5h1M794 453.5h4M887 453.5h3M942 453.5h2M281 454.5h1M798 454.5h3M885 454.5h2M944 454.5h2M280 455.5h1M801 455.5h2M883 455.5h2M946 455.5h1M280 456.5h1M803 456.5h3M881 456.5h2M947 456.5h1M279 457.5h1M806 457.5h4M842 457.5h8M858 457.5h23M948 457.5h1M278 458.5h1M810 458.5h3M834 458.5h8M850 458.5h8M949 458.5h1M31 459.5h7M278 459.5h1M813 459.5h2M827 459.5h7M950 459.5h1M986 459.5h2M29 460.5h2M38 460.5h3M277 460.5h1M815 460.5h3M825 460.5h2M951 460.5h1M982 460.5h4M27 461.5h2M41 461.5h2M276 461.5h1M818 461.5h7M952 461.5h2M978 461.5h4M26 462.5h1M43 462.5h3M276 462.5h1M954 462.5h1M974 462.5h4M24 463.5h2M46 463.5h4M275 463.5h1M955 463.5h2M971 463.5h3M23 464.5h1M50 464.5h12M274 464.5h1M957 464.5h2M969 464.5h2M22 465.5h1M62 465.5h4M274 465.5h1M959 465.5h10M20 466.5h2M66 466.5h10M139 466.5h1M273 466.5h1M19 467.5h1M76 467.5h2M137 467.5h2M140 467.5h1M273 467.5h1M18 468.5h1M78 468.5h1M135 468.5h2M141 468.5h1M272 468.5h1M16 469.5h2M79 469.5h2M133 469.5h2M142 469.5h1M272 469.5h1M15 470.5h1M81 470.5h2M131 470.5h2M143 470.5h1M271 470.5h1M14 471.5h1M83 471.5h1M130 471.5h1M144 471.5h1M270 471.5h1M13 472.5h1M84 472.5h1M129 472.5h1M145 472.5h1M270 472.5h1M12 473.5h1M85 473.5h1M129 473.5h1M146 473.5h1M269 473.5h1M11 474.5h1M86 474.5h1M128 474.5h1M147 474.5h1M269 474.5h1M10 475.5h1M87 475.5h2M127 475.5h1M148 475.5h1M268 475.5h1M8 476.5h2M89 476.5h2M125 476.5h2M149 476.5h1M268 476.5h1M6 477.5h2M91 477.5h2M123 477.5h2M150 477.5h1M267 477.5h1M3 478.5h3M93 478.5h2M121 478.5h2M151 478.5h1M266 478.5h1M95 479.5h1M119 479.5h2M152 479.5h1M266 479.5h1M96 480.5h2M117 480.5h2M152 480.5h1M265 480.5h1M98 481.5h1M115 481.5h2M153 481.5h1M265 481.5h1M99 482.5h2M113 482.5h2M153 482.5h1M264 482.5h1M101 483.5h2M111 483.5h2M154 483.5h1M264 483.5h1M103 484.5h3M109 484.5h2M154 484.5h1M263 484.5h1M106 485.5h3M155 485.5h1M262 485.5h1M156 486.5h1M262 486.5h1M157 487.5h1M261 487.5h1M157 488.5h1M260 488.5h1M158 489.5h1M260 489.5h1M159 490.5h2M259 490.5h1M161 491.5h2M258 491.5h1M163 492.5h1M257 492.5h1M164 493.5h2M257 493.5h1M166 494.5h1M256 494.5h1M167 495.5h1M255 495.5h1M168 496.5h2M254 496.5h1M170 497.5h1M254 497.5h1M171 498.5h1M253 498.5h1M172 499.5h1M253 499.5h1M173 500.5h1M252 500.5h1M174 501.5h1M252 501.5h1M175 502.5h1M251 502.5h1M176 503.5h1M251 503.5h1M177 504.5h1M250 504.5h1M178 505.5h1M250 505.5h1M179 506.5h1M249 506.5h1M180 507.5h1M249 507.5h1M181 508.5h1M248 508.5h1M182 509.5h1M248 509.5h1M183 510.5h1M247 510.5h1M184 511.5h1M246 511.5h1M184 512.5h1M245 512.5h1M185 513.5h1M245 513.5h1M186 514.5h1M244 514.5h1M186 515.5h1M243 515.5h1M187 516.5h1M242 516.5h1M187 517.5h1M240 517.5h2M188 518.5h1M239 518.5h1M188 519.5h1M238 519.5h1M189 520.5h1M237 520.5h1M189 521.5h1M236 521.5h1M190 522.5h1M235 522.5h1M190 523.5h1M234 523.5h1M191 524.5h1M232 524.5h2M191 525.5h1M231 525.5h1M192 526.5h1M230 526.5h1M192 527.5h1M228 527.5h2M193 528.5h1M227 528.5h1M193 529.5h1M225 529.5h2M194 530.5h1M223 530.5h2M194 531.5h1M222 531.5h1M195 532.5h1M220 532.5h2M196 533.5h1M219 533.5h1M197 534.5h1M217 534.5h2M198 535.5h1M215 535.5h2M199 536.5h3M213 536.5h2M202 537.5h4M210 537.5h3M206 538.5h4" fill="none" stroke="#c0c0c0" stroke-width="1"/>
<path d="M270.5 497v3M413 379.5h6M409 380.5h4M419 380.5h17M407 381.5h2M436 381.5h2M405 382.5h2M438 382.5h2M404 383.5h1M440 383.5h1M402 384.5h2M441 384.5h2M401 385.5h1M443 385.5h1M400 386.5h1M444 386.5h2M398 387.5h2M446 387.5h1M397 388.5h1M447 388.5h1M395 389.5h2M448 389.5h1M394 390.5h1M449 390.5h1M393 391.5h1M450 391.5h1M391 392.5h2M451 392.5h1M390 393.5h1M452 393.5h1M389 394.5h1M453 394.5h1M388 395.5h1M454 395.5h1M386 396.5h2M455 396.5h1M385 397.5h1M456 397.5h1M384 398.5h1M457 398.5h1M382 399.5h2M458 399.5h1M381 400.5h1M459 400.5h1M380 401.5h1M460 401.5h1M378 402.5h2M460 402.5h1M376 403.5h2M461 403.5h1M373 404.5h3M462 404.5h1M351 405.5h22M463 405.5h1M348 406.5h3M464 406.5h1M346 407.5h2M465 407.5h1M344 408.5h2M466 408.5h1M343 409.5h1M466 409.5h1M341 410.5h2M467 410.5h1M340 411.5h1M468 411.5h1M338 412.5h2M469 412.5h1M336 413.5h2M469 413.5h1M334 414.5h2M470 414.5h1M332 415.5h2M471 415.5h1M331 416.5h1M472 416.5h1M330 417.5h1M472 417.5h1M329 418.5h1M473 418.5h1M328 419.5h1M474 419.5h2M327 420.5h1M476 420.5h1M326 421.5h1M477 421.5h2M325 422.5h1M479 422.5h1M324 423.5h1M480 423.5h2M322 424.5h2M482 424.5h2M321 425.5h1M484 425.5h3M320 426.5h1M487 426.5h2M318 427.5h2M489 427.5h4M317 428.5h1M493 428.5h5M316 429.5h1M498 429.5h7M316 430.5h1M505 430.5h6M315 431.5h1M511 431.5h2M314 432.5h1M513 432.5h4M313 433.5h1M517 433.5h4M313 434.5h1M521 434.5h4M312 435.5h1M525 435.5h4M311 436.5h1M529 436.5h3M310 437.5h1M532 437.5h2M310 438.5h1M534 438.5h2M669 438.5h16M309 439.5h1M536 439.5h4M662 439.5h7M685 439.5h4M308 440.5h1M540 440.5h4M656 440.5h6M689 440.5h10M307 441.5h1M544 441.5h5M651 441.5h5M699 441.5h2M306 442.5h1M549 442.5h6M648 442.5h3M701 442.5h11M305 443.5h1M555 443.5h7M645 443.5h3M712 443.5h10M734 443.5h4M750 443.5h32M305 444.5h1M562 444.5h5M642 444.5h3M722 444.5h12M738 444.5h12M782 444.5h6M304 445.5h1M567 445.5h2M638 445.5h4M788 445.5h4M303 446.5h1M569 446.5h11M632 446.5h6M792 446.5h4M303 447.5h1M580 447.5h4M626 447.5h6M796 447.5h3M302 448.5h1M584 448.5h3M622 448.5h4M799 448.5h2M922 448.5h16M301 449.5h1M587 449.5h2M616 449.5h6M801 449.5h3M916 449.5h6M938 449.5h5M301 450.5h1M589 450.5h27M804 450.5h2M912 450.5h4M943 450.5h4M300 451.5h1M806 451.5h3M909 451.5h3M947 451.5h3M299 452.5h1M809 452.5h3M905 452.5h4M950 452.5h4M299 453.5h1M812 453.5h2M901 453.5h4M954 453.5h3M298 454.5h1M814 454.5h3M897 454.5h4M957 454.5h2M297 455.5h1M817 455.5h2M894 455.5h3M959 455.5h2M296 456.5h1M819 456.5h3M890 456.5h4M961 456.5h2M296 457.5h1M822 457.5h4M866 457.5h24M963 457.5h2M295 458.5h1M826 458.5h6M860 458.5h6M965 458.5h2M294 459.5h1M832 459.5h28M967 459.5h2M293 460.5h1M969 460.5h2M293 461.5h1M971 461.5h6M51 462.5h14M292 462.5h1M977 462.5h7M45 463.5h6M65 463.5h4M291 463.5h1M984 463.5h3M42 464.5h3M69 464.5h5M291 464.5h1M39 465.5h3M74 465.5h5M290 465.5h1M37 466.5h2M79 466.5h4M290 466.5h1M3 467.5h1M35 467.5h2M83 467.5h3M289 467.5h1M4 468.5h2M33 468.5h2M86 468.5h3M288 468.5h1M6 469.5h2M32 469.5h1M89 469.5h2M288 469.5h1M8 470.5h1M30 470.5h2M91 470.5h3M287 470.5h1M9 471.5h1M28 471.5h2M94 471.5h2M287 471.5h1M10 472.5h2M26 472.5h2M96 472.5h3M286 472.5h1M12 473.5h2M24 473.5h2M99 473.5h2M285 473.5h1M14 474.5h3M20 474.5h4M101 474.5h2M146 474.5h11M285 474.5h1M17 475.5h3M103 475.5h2M142 475.5h4M157 475.5h2M284 475.5h1M105 476.5h2M140 476.5h2M159 476.5h2M284 476.5h1M107 477.5h2M138 477.5h2M161 477.5h3M283 477.5h1M109 478.5h3M136 478.5h2M164 478.5h2M282 478.5h1M112 479.5h2M134 479.5h2M166 479.5h2M282 479.5h1M114 480.5h3M129 480.5h5M168 480.5h2M281 480.5h1M117 481.5h4M124 481.5h5M170 481.5h1M280 481.5h1M121 482.5h3M171 482.5h1M280 482.5h1M172 483.5h1M279 483.5h1M173 484.5h1M279 484.5h1M173 485.5h1M278 485.5h1M174 486.5h1M277 486.5h1M175 487.5h1M277 487.5h1M176 488.5h1M276 488.5h1M177 489.5h1M275 489.5h1M178 490.5h1M274 490.5h1M179 491.5h1M274 491.5h1M180 492.5h1M273 492.5h1M181 493.5h1M272 493.5h1M182 494.5h1M272 494.5h1M183 495.5h1M271 495.5h1M184 496.5h1M271 496.5h1M185 497.5h1M186 498.5h1M186 499.5h1M187 500.5h1M269 500.5h1M188 501.5h1M268 501.5h1M189 502.5h1M268 502.5h1M189 503.5h1M267 503.5h1M190 504.5h1M266 504.5h1M191 505.5h1M265 505.5h1M192 506.5h1M264 506.5h1M193 507.5h1M264 507.5h1M194 508.5h1M263 508.5h1M195 509.5h1M262 509.5h1M196 510.5h1M261 510.5h1M197 511.5h1M260 511.5h1M197 512.5h1M260 512.5h1M198 513.5h1M259 513.5h1M199 514.5h1M258 514.5h1M200 515.5h1M257 515.5h1M200 516.5h1M257 516.5h1M201 517.5h1M256 517.5h1M202 518.5h1M255 518.5h1M203 519.5h1M254 519.5h1M204 520.5h1M253 520.5h1M205 521.5h1M252 521.5h1M206 522.5h2M250 522.5h2M208 523.5h1M249 523.5h1M209 524.5h1M248 524.5h1M210 525.5h1M247 525.5h1M211 526.5h1M245 526.5h2M212 527.5h1M244 527.5h1M213 528.5h2M243 528.5h1M215 529.5h1M241 529.5h2M216 530.5h1M240 530.5h1M217 531.5h1M238 531.5h2M218 532.5h2M236 532.5h2M220 533.5h2M234 533.5h2M222 534.5h3M230 534.5h4M225 535.5h5" fill="none" stroke="#000" stroke-width="1"/>
</g>
<text x="1004.81" y="36" textLength="33.36" lengthAdjust="spacingAndGlyphs">13384.0</text>
<text x="1004.81" y="102" textLength="33.36" lengthAdjust="spacingAndGlyphs">12964.0</text>
<text x="1004.81" y="135" textLength="33.36" lengthAdjust="spacingAndGlyphs">12754.0</text>
<text x="1004.81" y="168" textLength="33.36" lengthAdjust="spacingAndGlyphs">12544.0</text>
<text x="1004.81" y="201" textLength="33.36" lengthAdjust="spacingAndGlyphs">12334.0</text>
<text x="1004.81" y="234" textLength="33.36" lengthAdjust="spacingAndGlyphs">12124.0</text>
<text x="1004.81" y="267" textLength="33.36" lengthAdjust="spacingAndGlyphs">11914.0</text>
<text x="1004.81" y="300" textLength="33.36" lengthAdjust="spacingAndGlyphs">11704.0</text>
<text x="1004.81" y="333" textLength="33.36" lengthAdjust="spacingAndGlyphs">11500.0</text>
<text x="1004.81" y="366" textLength="33.36" lengthAdjust="spacingAndGlyphs">11290.0</text>
<rect x="1001" y="54" width="41" height="11" fill="#000" shape-rendering="crispEdges"/>
<text x="1004.81" y="63" textLength="33.45" lengthAdjust="spacingAndGlyphs" style="fill:#fff;stroke:#fff">13214.1</text>
<rect x="1001" y="14" width="41" height="11" fill="#f00" shape-rendering="crispEdges"/>
<text x="1004.81" y="23" textLength="33.41" lengthAdjust="spacingAndGlyphs" style="fill:#fff;stroke:#fff">13459.8</text>
<rect x="1001" y="59" width="41" height="11" fill="#f00" shape-rendering="crispEdges"/>
<text x="1004.81" y="68" textLength="33.41" lengthAdjust="spacingAndGlyphs" style="fill:#fff;stroke:#fff">13172.3</text>
<rect x="1001" y="97" width="41" height="11" fill="#f00" shape-rendering="crispEdges"/>
<text x="1004.81" y="106" textLength="33.26" lengthAdjust="spacingAndGlyphs" style="fill:#fff;stroke:#fff">12934.4</text>
<text x="1002.42" y="378" textLength="23.88" lengthAdjust="spacingAndGlyphs">271.8</text>
<text x="1002.51" y="457" textLength="18.99" lengthAdjust="spacingAndGlyphs">0.00</text>
<text x="1002.37" y="544" textLength="32.33" lengthAdjust="spacingAndGlyphs">-298.38</text>
<text x="2.30" y="560" textLength="50.65" lengthAdjust="spacingAndGlyphs">16 Oct 2020</text>
<text x="65.93" y="560" textLength="54.26" lengthAdjust="spacingAndGlyphs">20 Oct 20:00</text>
<text x="129.82" y="560" textLength="54.77" lengthAdjust="spacingAndGlyphs">23 Oct 12:00</text>
<text x="194.53" y="560" textLength="53.96" lengthAdjust="spacingAndGlyphs">28 Oct 16:00</text>
<text x="258.02" y="560" textLength="51.94" lengthAdjust="spacingAndGlyphs">2 Nov 16:00</text>
<text x="321.81" y="560" textLength="52.56" lengthAdjust="spacingAndGlyphs">5 Nov 08:00</text>
<text x="385.88" y="560" textLength="57.50" lengthAdjust="spacingAndGlyphs">10 Nov 00:00</text>
<text x="449.78" y="560" textLength="56.99" lengthAdjust="spacingAndGlyphs">12 Nov 16:00</text>
<text x="513.78" y="560" textLength="57.50" lengthAdjust="spacingAndGlyphs">17 Nov 08:00</text>
<text x="577.92" y="560" textLength="57.25" lengthAdjust="spacingAndGlyphs">20 Nov 00:00</text>
<text x="641.82" y="560" textLength="57.25" lengthAdjust="spacingAndGlyphs">24 Nov 16:00</text>
<text x="706.02" y="560" textLength="56.95" lengthAdjust="spacingAndGlyphs">27 Nov 08:00</text>
<text x="770.44" y="560" textLength="49.71" lengthAdjust="spacingAndGlyphs">2 Dec 00:00</text>
<text x="834.17" y="560" textLength="49.93" lengthAdjust="spacingAndGlyphs">4 Dec 16:00</text>
<text x="897.88" y="560" textLength="50.17" lengthAdjust="spacingAndGlyphs">9 Dec 08:00</text>
<text x="961.51" y="560" textLength="54.95" lengthAdjust="spacingAndGlyphs">14 Dec 00:00</text>
<text x="7.16" y="14" textLength="60.49" lengthAdjust="spacingAndGlyphs">FDAXCash,H4</text>
<text x="74.01" y="14" textLength="33.20" lengthAdjust="spacingAndGlyphs">13215.3</text>
<text x="110.12" y="14" textLength="32.68" lengthAdjust="spacingAndGlyphs">13218.6</text>
<text x="145.91" y="14" textLength="33.20" lengthAdjust="spacingAndGlyphs">13212.6</text>
<text x="182.22" y="14" textLength="32.73" lengthAdjust="spacingAndGlyphs">13214.1</text>
<text x="7.14" y="380" textLength="66.05" lengthAdjust="spacingAndGlyphs">MACD(12,26,9)</text>
<text x="75.89" y="380" textLength="25.61" lengthAdjust="spacingAndGlyphs">-21.91</text>
<text x="104.88" y="380" textLength="26.50" lengthAdjust="spacingAndGlyphs">-30.50</text>
<text x="136.95" y="380" textLength="36.29" lengthAdjust="spacingAndGlyphs">-&gt;MA(1)</text>
<text x="175.88" y="380" textLength="26.18" lengthAdjust="spacingAndGlyphs">-21.91</text>
</svg></body></html>
